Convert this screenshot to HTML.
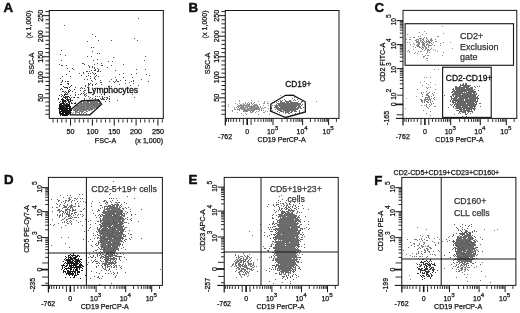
<!DOCTYPE html><html><head><meta charset="utf-8"><style>html,body{margin:0;padding:0;background:#fff;width:520px;height:313px;overflow:hidden}svg{display:block;font-family:"Liberation Sans",sans-serif}</style></head><body><svg width="520" height="313" viewBox="0 0 520 313" font-family='"Liberation Sans", sans-serif'><rect width="520" height="313" fill="#fff"/><defs><filter id="bl" x="-5%" y="-5%" width="110%" height="110%"><feGaussianBlur stdDeviation="0.45"/></filter><filter id="bt" x="-2%" y="-2%" width="104%" height="104%"><feGaussianBlur stdDeviation="0.3"/></filter></defs><g shape-rendering="crispEdges" filter="url(#bl)"><path fill="#737373" d="M97 100h2v1h-2zM83 101h1v1h-1zM87 101h12v1h-12zM81 102h1v1h-1zM83 102h6v1h-6zM90 102h8v1h-8zM99 102h1v1h-1zM80 103h20v1h-20zM79 104h21v1h-21zM77 105h22v1h-22zM76 106h22v1h-22zM75 107h22v1h-22zM74 108h21v1h-21zM74 109h19v1h-19zM73 110h14v1h-14zM88 110h2v1h-2zM91 110h1v1h-1zM75 111h3v1h-3zM79 111h5v1h-5zM86 111h2v1h-2zM75 112h1v1h-1zM77 112h1v1h-1zM79 112h1v1h-1zM84 112h1v1h-1zM79 113h1v1h-1z"/><path fill="#8a8a8a" d="M92 104h1v1h-1zM82 105h1v1h-1zM84 105h2v1h-2zM91 105h1v1h-1zM76 106h1v1h-1zM89 106h1v1h-1zM93 106h1v1h-1zM77 107h1v1h-1zM85 107h2v1h-2zM89 107h1v1h-1zM91 107h1v1h-1zM95 107h2v1h-2zM75 108h1v1h-1zM78 108h1v1h-1zM85 108h1v1h-1zM88 108h1v1h-1zM73 109h1v1h-1zM76 109h1v1h-1zM79 109h1v1h-1zM81 109h1v1h-1zM76 110h1v1h-1zM79 110h2v1h-2zM82 110h2v1h-2zM86 110h1v1h-1zM88 110h1v1h-1zM91 110h1v1h-1zM77 111h1v1h-1zM79 111h2v1h-2zM83 111h1v1h-1zM71 112h1v1h-1zM73 112h1v1h-1zM76 112h3v1h-3zM81 112h2v1h-2zM85 112h1v1h-1zM72 113h1v1h-1zM75 113h1v1h-1zM81 113h1v1h-1zM83 113h1v1h-1zM86 113h1v1h-1z"/><path fill="#141414" d="M63 102h1v1h-1zM61 103h4v1h-4zM66 103h2v1h-2zM69 103h1v1h-1zM59 104h3v1h-3zM63 104h7v1h-7zM59 105h11v1h-11zM59 106h12v1h-12zM59 107h9v1h-9zM69 107h2v1h-2zM59 108h12v1h-12zM59 109h9v1h-9zM69 109h2v1h-2zM59 110h1v1h-1zM61 110h11v1h-11zM59 111h11v1h-11zM59 112h2v1h-2zM62 112h9v1h-9zM59 113h5v1h-5zM65 113h6v1h-6zM60 114h9v1h-9zM60 115h1v1h-1zM62 115h6v1h-6z"/><path fill="#222" d="M61 94h1v1h-1zM64 94h1v1h-1zM59 95h1v1h-1zM62 95h1v1h-1zM64 95h1v1h-1zM61 96h1v1h-1zM63 96h1v1h-1zM67 96h2v1h-2zM64 97h3v1h-3zM69 97h1v1h-1zM74 97h1v1h-1zM58 98h1v1h-1zM62 98h1v1h-1zM65 98h1v1h-1zM67 98h1v1h-1zM70 98h1v1h-1zM61 99h3v1h-3zM66 99h2v1h-2zM69 99h2v1h-2zM62 100h4v1h-4zM67 100h2v1h-2zM70 100h1v1h-1zM72 100h1v1h-1zM60 101h1v1h-1zM62 101h5v1h-5zM68 101h1v1h-1zM70 101h1v1h-1zM59 102h1v1h-1zM62 102h1v1h-1zM65 102h1v1h-1zM68 102h2v1h-2zM60 103h1v1h-1zM67 103h1v1h-1zM71 103h2v1h-2zM74 103h2v1h-2zM63 104h2v1h-2zM66 104h2v1h-2zM60 105h1v1h-1zM63 105h1v1h-1zM65 105h1v1h-1zM73 254h1v1h-1zM72 255h1v1h-1zM68 256h1v1h-1zM70 256h1v1h-1zM73 257h1v1h-1zM75 257h1v1h-1zM68 258h1v1h-1zM72 259h1v1h-1zM75 259h1v1h-1zM65 260h1v1h-1zM70 260h1v1h-1zM72 260h1v1h-1zM79 260h1v1h-1zM68 261h3v1h-3zM72 261h1v1h-1zM80 261h1v1h-1zM67 262h2v1h-2zM70 262h4v1h-4zM75 262h2v1h-2zM79 262h1v1h-1zM66 263h1v1h-1zM69 263h1v1h-1zM72 263h1v1h-1zM74 263h2v1h-2zM80 263h1v1h-1zM63 264h1v1h-1zM71 264h1v1h-1zM73 264h1v1h-1zM75 264h3v1h-3zM81 264h1v1h-1zM61 265h2v1h-2zM71 265h1v1h-1zM75 265h1v1h-1zM65 266h2v1h-2zM70 266h2v1h-2zM75 266h1v1h-1zM82 266h2v1h-2zM62 267h1v1h-1zM70 267h3v1h-3zM62 268h1v1h-1zM69 268h2v1h-2zM79 268h1v1h-1zM61 269h1v1h-1zM76 269h1v1h-1zM79 269h1v1h-1zM68 270h1v1h-1zM76 270h2v1h-2zM82 270h1v1h-1zM63 271h1v1h-1zM69 271h1v1h-1zM72 271h2v1h-2zM75 271h1v1h-1zM78 271h1v1h-1zM72 272h1v1h-1zM77 272h1v1h-1zM79 272h1v1h-1zM67 273h1v1h-1zM70 273h1v1h-1zM75 273h1v1h-1zM77 273h1v1h-1zM66 274h1v1h-1zM78 274h1v1h-1zM85 275h1v1h-1zM73 277h2v1h-2zM80 278h1v1h-1z"/><path fill="#444" d="M69 10h2v1h-2zM74 10h1v1h-1zM91 10h2v1h-2zM94 10h1v1h-1zM97 10h1v1h-1zM100 10h1v1h-1zM113 10h1v1h-1zM129 10h2v1h-2zM136 10h1v1h-1zM139 10h1v1h-1zM147 10h2v1h-2zM61 50h1v1h-1zM60 54h1v1h-1zM65 55h1v1h-1zM61 60h1v1h-1zM59 64h1v1h-1zM61 65h2v1h-2zM66 65h1v1h-1zM67 68h1v1h-1zM72 68h1v1h-1zM73 69h1v1h-1zM69 71h1v1h-1zM66 74h1v1h-1zM60 78h1v1h-1zM65 81h1v1h-1zM67 81h1v1h-1zM61 82h1v1h-1zM67 83h2v1h-2zM71 85h1v1h-1zM63 97h1v1h-1zM67 103h1v1h-1z"/><path fill="#4a4a4a" d="M92 34h1v1h-1zM95 36h1v1h-1zM98 40h1v1h-1zM111 40h1v1h-1zM87 41h1v1h-1zM91 47h1v1h-1zM93 47h1v1h-1zM92 51h1v1h-1zM97 53h1v1h-1zM99 53h1v1h-1zM97 59h1v1h-1zM93 60h1v1h-1zM82 63h2v1h-2zM97 63h1v1h-1zM84 64h1v1h-1zM94 64h1v1h-1zM88 65h1v1h-1zM101 65h2v1h-2zM89 66h1v1h-1zM92 66h1v1h-1zM89 67h1v1h-1zM92 67h1v1h-1zM94 67h1v1h-1zM107 67h1v1h-1zM95 69h1v1h-1zM98 69h1v1h-1zM91 70h1v1h-1zM94 70h2v1h-2zM98 70h1v1h-1zM86 71h2v1h-2zM89 71h1v1h-1zM97 71h2v1h-2zM100 71h1v1h-1zM83 72h1v1h-1zM92 72h1v1h-1zM88 73h1v1h-1zM90 73h1v1h-1zM95 73h1v1h-1zM81 75h1v1h-1zM88 75h1v1h-1zM96 75h1v1h-1zM62 76h1v1h-1zM86 76h1v1h-1zM90 76h1v1h-1zM95 76h1v1h-1zM98 76h1v1h-1zM94 77h1v1h-1zM90 78h1v1h-1zM94 78h1v1h-1zM84 79h1v1h-1zM87 79h1v1h-1zM95 79h1v1h-1zM91 80h1v1h-1zM100 80h1v1h-1zM92 81h1v1h-1zM101 82h1v1h-1zM88 83h1v1h-1zM90 83h1v1h-1zM92 84h1v1h-1zM95 84h1v1h-1zM85 85h1v1h-1zM92 85h1v1h-1zM75 87h1v1h-1zM81 87h1v1h-1zM82 88h1v1h-1zM94 88h1v1h-1zM84 92h1v1h-1zM109 92h1v1h-1zM101 94h1v1h-1zM99 96h1v1h-1zM102 96h1v1h-1zM109 96h1v1h-1zM104 97h1v1h-1zM106 97h2v1h-2zM100 98h1v1h-1zM102 98h1v1h-1zM107 98h1v1h-1zM109 98h1v1h-1zM95 99h1v1h-1zM98 99h1v1h-1zM101 99h4v1h-4zM106 99h1v1h-1zM109 99h1v1h-1zM81 101h1v1h-1zM105 101h1v1h-1zM109 101h1v1h-1zM93 104h1v1h-1z"/><path fill="#555" d="M138 18h1v1h-1zM64 25h1v1h-1zM134 38h1v1h-1zM137 40h1v1h-1zM87 56h1v1h-1zM91 56h1v1h-1zM145 56h1v1h-1zM113 57h1v1h-1zM144 60h1v1h-1zM108 61h1v1h-1zM112 61h1v1h-1zM101 63h1v1h-1zM94 64h1v1h-1zM123 64h1v1h-1zM111 65h1v1h-1zM94 68h1v1h-1zM97 68h1v1h-1zM136 69h1v1h-1zM145 69h1v1h-1zM115 70h1v1h-1zM79 73h1v1h-1zM83 73h1v1h-1zM93 73h1v1h-1zM123 73h1v1h-1zM136 73h1v1h-1zM94 74h1v1h-1zM119 74h1v1h-1zM131 74h1v1h-1zM146 74h1v1h-1zM149 75h1v1h-1zM115 77h1v1h-1zM123 77h1v1h-1zM132 77h1v1h-1zM111 79h1v1h-1zM116 79h1v1h-1zM141 79h1v1h-1zM116 80h1v1h-1zM120 80h1v1h-1zM125 80h1v1h-1zM133 80h1v1h-1zM92 81h1v1h-1zM109 81h1v1h-1zM113 81h1v1h-1zM115 81h1v1h-1zM117 81h2v1h-2zM131 81h1v1h-1zM133 81h1v1h-1zM148 81h1v1h-1zM100 82h1v1h-1zM114 82h1v1h-1zM129 82h1v1h-1zM96 83h1v1h-1zM125 83h1v1h-1zM133 83h1v1h-1zM88 84h2v1h-2zM101 84h1v1h-1zM119 84h1v1h-1zM88 85h1v1h-1zM130 85h1v1h-1zM138 85h1v1h-1zM85 86h1v1h-1zM108 86h1v1h-1zM111 86h1v1h-1zM87 87h1v1h-1zM80 88h1v1h-1zM84 88h1v1h-1zM97 88h1v1h-1zM107 88h1v1h-1zM88 89h1v1h-1zM99 89h1v1h-1zM80 90h1v1h-1zM84 90h2v1h-2zM93 90h1v1h-1zM83 91h1v1h-1zM113 91h1v1h-1zM68 92h1v1h-1zM89 92h1v1h-1zM127 92h1v1h-1zM81 93h1v1h-1zM83 93h1v1h-1zM86 93h1v1h-1zM94 93h1v1h-1zM67 94h1v1h-1zM75 94h1v1h-1zM78 94h1v1h-1zM80 94h1v1h-1zM84 94h2v1h-2zM132 94h1v1h-1zM75 95h1v1h-1zM84 95h1v1h-1zM86 95h1v1h-1zM63 96h1v1h-1zM66 96h1v1h-1zM85 96h1v1h-1zM88 96h1v1h-1zM95 96h1v1h-1zM97 96h1v1h-1zM99 96h1v1h-1zM67 97h1v1h-1zM71 97h1v1h-1zM73 97h1v1h-1zM77 97h1v1h-1zM90 97h1v1h-1zM102 97h1v1h-1zM134 97h1v1h-1zM84 98h1v1h-1zM89 98h1v1h-1zM92 98h1v1h-1zM95 98h1v1h-1zM103 98h1v1h-1zM58 99h1v1h-1zM69 99h1v1h-1zM84 99h1v1h-1zM71 100h1v1h-1zM117 100h1v1h-1zM66 101h1v1h-1zM69 101h1v1h-1zM87 101h1v1h-1zM71 102h1v1h-1zM75 102h1v1h-1zM72 103h1v1h-1zM65 104h1v1h-1zM64 106h1v1h-1zM65 107h1v1h-1zM58 108h1v1h-1zM93 255h1v1h-1zM99 255h1v1h-1zM108 255h1v1h-1zM90 256h1v1h-1zM93 256h1v1h-1zM101 256h1v1h-1zM88 257h1v1h-1zM92 257h1v1h-1zM101 257h1v1h-1zM94 260h1v1h-1zM93 261h1v1h-1zM95 261h2v1h-2zM88 262h1v1h-1zM92 262h1v1h-1zM96 263h1v1h-1zM99 263h1v1h-1zM108 263h1v1h-1zM87 264h1v1h-1zM98 265h1v1h-1zM101 265h1v1h-1zM105 265h1v1h-1zM96 266h1v1h-1zM102 266h1v1h-1zM91 271h1v1h-1zM96 272h1v1h-1zM94 276h1v1h-1zM97 277h1v1h-1zM90 278h1v1h-1z"/><path fill="#3a3a3a" d="M70 76h1v1h-1zM62 80h1v1h-1zM62 81h1v1h-1zM68 81h1v1h-1zM60 84h2v1h-2zM68 84h1v1h-1zM63 86h1v1h-1zM70 86h1v1h-1zM64 87h4v1h-4zM69 87h1v1h-1zM61 88h1v1h-1zM67 88h1v1h-1zM60 89h1v1h-1zM62 89h1v1h-1zM69 89h1v1h-1zM74 89h1v1h-1zM68 90h1v1h-1zM70 90h1v1h-1zM62 91h2v1h-2zM65 91h1v1h-1zM68 91h2v1h-2zM72 91h1v1h-1zM64 92h1v1h-1zM66 92h1v1h-1zM68 92h1v1h-1zM75 92h1v1h-1zM65 93h1v1h-1zM67 93h1v1h-1zM61 94h1v1h-1zM65 94h2v1h-2zM70 95h1v1h-1zM65 96h1v1h-1zM78 97h1v1h-1zM63 99h1v1h-1zM68 99h1v1h-1zM422 259h2v1h-2zM430 259h1v1h-1zM430 260h1v1h-1zM425 261h1v1h-1zM427 261h1v1h-1zM429 261h1v1h-1zM431 261h1v1h-1zM420 262h4v1h-4zM428 262h1v1h-1zM425 263h1v1h-1zM427 263h1v1h-1zM431 263h1v1h-1zM434 263h1v1h-1zM417 264h1v1h-1zM419 264h1v1h-1zM421 264h1v1h-1zM424 264h2v1h-2zM427 264h3v1h-3zM432 264h1v1h-1zM434 264h1v1h-1zM420 265h2v1h-2zM428 265h3v1h-3zM434 265h1v1h-1zM419 266h2v1h-2zM424 266h1v1h-1zM426 266h1v1h-1zM430 266h1v1h-1zM417 267h1v1h-1zM424 267h1v1h-1zM426 267h1v1h-1zM429 267h1v1h-1zM431 267h3v1h-3zM418 268h2v1h-2zM421 268h2v1h-2zM426 268h2v1h-2zM430 268h1v1h-1zM433 268h1v1h-1zM418 269h1v1h-1zM420 269h1v1h-1zM424 269h1v1h-1zM427 269h1v1h-1zM430 269h1v1h-1zM434 269h1v1h-1zM420 270h1v1h-1zM423 270h1v1h-1zM432 270h2v1h-2zM437 270h1v1h-1zM420 271h1v1h-1zM425 271h1v1h-1zM427 271h3v1h-3zM420 272h1v1h-1zM422 272h1v1h-1zM424 272h1v1h-1zM426 272h1v1h-1zM428 272h1v1h-1zM432 272h1v1h-1zM435 272h1v1h-1zM417 273h1v1h-1zM422 273h1v1h-1zM424 273h1v1h-1zM426 273h2v1h-2zM427 274h2v1h-2zM420 275h1v1h-1zM423 275h1v1h-1zM426 275h1v1h-1zM428 275h2v1h-2zM431 275h2v1h-2zM421 276h1v1h-1zM424 276h1v1h-1zM427 276h3v1h-3zM422 277h1v1h-1zM430 277h1v1h-1zM430 278h1v1h-1z"/><path fill="#878787" d="M247 103h1v1h-1zM249 103h1v1h-1zM251 103h1v1h-1zM253 103h1v1h-1zM241 104h1v1h-1zM243 104h2v1h-2zM246 104h1v1h-1zM248 104h2v1h-2zM252 104h1v1h-1zM254 104h1v1h-1zM256 104h1v1h-1zM259 104h1v1h-1zM238 105h1v1h-1zM240 105h10v1h-10zM251 105h1v1h-1zM253 105h5v1h-5zM239 106h5v1h-5zM245 106h2v1h-2zM248 106h7v1h-7zM236 107h1v1h-1zM238 107h1v1h-1zM240 107h8v1h-8zM249 107h10v1h-10zM240 108h6v1h-6zM247 108h12v1h-12zM261 108h1v1h-1zM237 109h3v1h-3zM242 109h11v1h-11zM254 109h5v1h-5zM239 110h1v1h-1zM243 110h7v1h-7zM251 110h4v1h-4zM259 110h1v1h-1zM243 111h1v1h-1zM245 111h3v1h-3zM250 111h1v1h-1zM252 111h2v1h-2zM251 112h1v1h-1z"/><path fill="#999" d="M434 69h1v1h-1zM438 69h1v1h-1zM424 77h1v1h-1zM426 77h1v1h-1zM430 77h1v1h-1zM424 81h1v1h-1zM420 82h1v1h-1zM430 82h1v1h-1zM426 83h1v1h-1zM428 84h1v1h-1zM435 84h1v1h-1zM426 87h1v1h-1zM428 87h1v1h-1zM417 89h1v1h-1zM435 89h1v1h-1zM280 95h1v1h-1zM416 96h1v1h-1zM406 98h1v1h-1zM434 99h1v1h-1zM239 100h1v1h-1zM251 100h1v1h-1zM239 101h1v1h-1zM258 101h1v1h-1zM264 101h1v1h-1zM267 101h1v1h-1zM245 102h1v1h-1zM248 102h1v1h-1zM254 102h1v1h-1zM264 102h1v1h-1zM274 102h1v1h-1zM235 103h1v1h-1zM239 103h1v1h-1zM243 103h1v1h-1zM245 103h1v1h-1zM249 103h1v1h-1zM263 103h2v1h-2zM267 103h2v1h-2zM228 104h1v1h-1zM237 104h1v1h-1zM240 104h2v1h-2zM243 104h1v1h-1zM246 104h2v1h-2zM252 104h1v1h-1zM254 104h2v1h-2zM259 104h1v1h-1zM239 105h1v1h-1zM247 105h1v1h-1zM255 105h2v1h-2zM263 105h1v1h-1zM268 105h1v1h-1zM272 105h1v1h-1zM274 105h2v1h-2zM228 106h1v1h-1zM237 106h5v1h-5zM245 106h3v1h-3zM249 106h2v1h-2zM253 106h1v1h-1zM255 106h4v1h-4zM260 106h1v1h-1zM435 106h1v1h-1zM234 107h1v1h-1zM240 107h1v1h-1zM245 107h2v1h-2zM252 107h1v1h-1zM255 107h1v1h-1zM260 107h1v1h-1zM262 107h1v1h-1zM264 107h2v1h-2zM234 108h1v1h-1zM237 108h1v1h-1zM239 108h1v1h-1zM243 108h3v1h-3zM249 108h1v1h-1zM253 108h1v1h-1zM259 108h1v1h-1zM263 108h1v1h-1zM268 108h1v1h-1zM405 108h1v1h-1zM234 109h2v1h-2zM237 109h1v1h-1zM241 109h1v1h-1zM243 109h1v1h-1zM248 109h4v1h-4zM253 109h1v1h-1zM257 109h1v1h-1zM259 109h1v1h-1zM261 109h1v1h-1zM232 110h1v1h-1zM250 110h1v1h-1zM261 110h1v1h-1zM263 110h1v1h-1zM271 110h2v1h-2zM232 111h1v1h-1zM244 111h1v1h-1zM256 111h1v1h-1zM258 111h1v1h-1zM265 111h1v1h-1zM267 111h1v1h-1zM237 112h1v1h-1zM250 112h3v1h-3zM255 112h1v1h-1zM263 112h2v1h-2zM241 113h1v1h-1zM245 113h1v1h-1zM246 114h1v1h-1zM258 114h1v1h-1zM269 114h1v1h-1zM243 115h1v1h-1z"/><path fill="#707070" d="M289 100h2v1h-2zM295 100h1v1h-1zM286 101h1v1h-1zM288 101h4v1h-4zM298 101h1v1h-1zM280 102h5v1h-5zM286 102h2v1h-2zM290 102h8v1h-8zM277 103h23v1h-23zM276 104h1v1h-1zM278 104h23v1h-23zM275 105h25v1h-25zM301 105h1v1h-1zM275 106h3v1h-3zM279 106h18v1h-18zM298 106h3v1h-3zM275 107h4v1h-4zM280 107h16v1h-16zM297 107h4v1h-4zM276 108h23v1h-23zM300 108h1v1h-1zM275 109h1v1h-1zM277 109h21v1h-21zM278 110h4v1h-4zM283 110h13v1h-13zM299 110h1v1h-1zM280 111h4v1h-4zM285 111h5v1h-5zM291 111h2v1h-2zM296 111h1v1h-1zM283 112h1v1h-1zM288 112h1v1h-1zM290 112h1v1h-1zM285 113h1v1h-1zM462 233h1v1h-1zM464 233h1v1h-1zM466 233h1v1h-1zM460 234h3v1h-3zM464 234h1v1h-1zM466 234h4v1h-4zM459 235h1v1h-1zM462 235h1v1h-1zM464 235h3v1h-3zM468 235h3v1h-3zM472 235h1v1h-1zM457 236h2v1h-2zM460 236h2v1h-2zM463 236h9v1h-9zM458 237h9v1h-9zM468 237h4v1h-4zM457 238h5v1h-5zM463 238h2v1h-2zM467 238h5v1h-5zM473 238h1v1h-1zM456 239h17v1h-17zM456 240h1v1h-1zM458 240h13v1h-13zM474 240h1v1h-1zM457 241h4v1h-4zM462 241h10v1h-10zM455 242h4v1h-4zM460 242h13v1h-13zM475 242h1v1h-1zM454 243h1v1h-1zM456 243h8v1h-8zM465 243h10v1h-10zM455 244h3v1h-3zM460 244h16v1h-16zM453 245h1v1h-1zM455 245h16v1h-16zM472 245h4v1h-4zM456 246h18v1h-18zM454 247h2v1h-2zM458 247h16v1h-16zM475 247h1v1h-1zM455 248h21v1h-21zM455 249h1v1h-1zM457 249h12v1h-12zM470 249h5v1h-5zM455 250h1v1h-1zM457 250h6v1h-6zM464 250h2v1h-2zM467 250h6v1h-6zM474 250h2v1h-2zM455 251h7v1h-7zM463 251h12v1h-12zM456 252h9v1h-9zM466 252h8v1h-8zM475 252h1v1h-1zM456 253h6v1h-6zM464 253h6v1h-6zM471 253h1v1h-1zM473 253h1v1h-1zM475 253h1v1h-1zM454 254h1v1h-1zM457 254h19v1h-19zM453 255h1v1h-1zM455 255h1v1h-1zM457 255h18v1h-18zM456 256h8v1h-8zM465 256h10v1h-10zM457 257h12v1h-12zM470 257h3v1h-3zM457 258h14v1h-14zM472 258h3v1h-3zM457 259h1v1h-1zM459 259h3v1h-3zM463 259h11v1h-11zM458 260h14v1h-14zM458 261h2v1h-2zM461 261h2v1h-2zM464 261h8v1h-8zM459 262h1v1h-1zM461 262h2v1h-2zM464 262h2v1h-2zM467 262h1v1h-1zM470 262h1v1h-1zM462 263h2v1h-2zM466 263h2v1h-2z"/><path fill="#6a6a6a" d="M294 97h1v1h-1zM292 98h1v1h-1zM284 99h1v1h-1zM294 99h1v1h-1zM297 99h1v1h-1zM280 100h1v1h-1zM282 100h1v1h-1zM285 100h1v1h-1zM293 100h1v1h-1zM278 101h1v1h-1zM280 101h2v1h-2zM285 101h3v1h-3zM301 101h2v1h-2zM276 102h1v1h-1zM280 102h1v1h-1zM288 102h1v1h-1zM290 102h1v1h-1zM294 102h2v1h-2zM297 102h1v1h-1zM301 102h1v1h-1zM277 103h1v1h-1zM280 103h1v1h-1zM283 103h1v1h-1zM287 103h1v1h-1zM289 103h1v1h-1zM293 103h1v1h-1zM298 103h3v1h-3zM278 104h1v1h-1zM284 104h3v1h-3zM288 104h4v1h-4zM294 104h2v1h-2zM297 104h1v1h-1zM299 104h1v1h-1zM302 104h1v1h-1zM281 105h1v1h-1zM283 105h4v1h-4zM288 105h1v1h-1zM290 105h2v1h-2zM295 105h1v1h-1zM301 105h1v1h-1zM282 106h1v1h-1zM284 106h1v1h-1zM286 106h5v1h-5zM292 106h3v1h-3zM296 106h1v1h-1zM271 107h1v1h-1zM274 107h1v1h-1zM276 107h1v1h-1zM282 107h1v1h-1zM285 107h2v1h-2zM288 107h2v1h-2zM293 107h1v1h-1zM295 107h1v1h-1zM297 107h1v1h-1zM303 107h1v1h-1zM271 108h1v1h-1zM282 108h2v1h-2zM287 108h1v1h-1zM289 108h1v1h-1zM291 108h1v1h-1zM294 108h1v1h-1zM301 108h1v1h-1zM281 109h1v1h-1zM285 109h4v1h-4zM290 109h2v1h-2zM296 109h1v1h-1zM280 110h2v1h-2zM284 110h3v1h-3zM290 110h3v1h-3zM277 111h1v1h-1zM283 111h1v1h-1zM286 111h1v1h-1zM294 111h2v1h-2zM299 111h1v1h-1zM279 112h1v1h-1zM285 112h3v1h-3zM291 112h1v1h-1zM299 112h1v1h-1zM288 113h2v1h-2zM295 113h1v1h-1zM79 194h1v1h-1zM82 194h1v1h-1zM60 195h1v1h-1zM67 195h1v1h-1zM70 195h1v1h-1zM63 197h1v1h-1zM69 197h1v1h-1zM71 197h1v1h-1zM68 198h2v1h-2zM74 198h2v1h-2zM77 198h1v1h-1zM80 198h1v1h-1zM82 198h1v1h-1zM51 199h1v1h-1zM57 199h1v1h-1zM69 199h2v1h-2zM76 199h1v1h-1zM58 200h2v1h-2zM65 200h2v1h-2zM68 200h2v1h-2zM72 200h1v1h-1zM74 200h1v1h-1zM58 201h1v1h-1zM63 201h1v1h-1zM65 201h1v1h-1zM68 201h1v1h-1zM71 201h1v1h-1zM77 201h1v1h-1zM80 201h1v1h-1zM83 201h1v1h-1zM61 202h1v1h-1zM65 202h1v1h-1zM71 202h1v1h-1zM85 202h1v1h-1zM56 203h1v1h-1zM64 203h1v1h-1zM75 203h1v1h-1zM78 203h1v1h-1zM57 204h1v1h-1zM60 204h1v1h-1zM67 204h1v1h-1zM71 204h1v1h-1zM75 204h1v1h-1zM59 205h1v1h-1zM63 205h2v1h-2zM67 205h1v1h-1zM70 205h3v1h-3zM78 205h1v1h-1zM59 206h1v1h-1zM64 206h3v1h-3zM69 206h3v1h-3zM73 206h3v1h-3zM78 206h2v1h-2zM56 207h2v1h-2zM63 207h4v1h-4zM68 207h1v1h-1zM70 207h3v1h-3zM62 208h1v1h-1zM67 208h1v1h-1zM70 208h1v1h-1zM72 208h1v1h-1zM84 208h1v1h-1zM58 209h2v1h-2zM65 209h5v1h-5zM72 209h2v1h-2zM75 209h1v1h-1zM83 209h1v1h-1zM57 210h3v1h-3zM61 210h1v1h-1zM65 210h2v1h-2zM69 210h2v1h-2zM72 210h4v1h-4zM52 211h1v1h-1zM59 211h2v1h-2zM62 211h2v1h-2zM65 211h1v1h-1zM67 211h1v1h-1zM69 211h1v1h-1zM72 211h1v1h-1zM80 211h2v1h-2zM59 212h1v1h-1zM63 212h1v1h-1zM65 212h1v1h-1zM67 212h1v1h-1zM69 212h1v1h-1zM74 212h3v1h-3zM62 213h1v1h-1zM64 213h1v1h-1zM66 213h2v1h-2zM69 213h1v1h-1zM71 213h2v1h-2zM74 213h1v1h-1zM57 214h1v1h-1zM60 214h1v1h-1zM62 214h1v1h-1zM66 214h4v1h-4zM71 214h1v1h-1zM75 214h1v1h-1zM78 214h1v1h-1zM80 214h1v1h-1zM82 214h1v1h-1zM57 215h1v1h-1zM59 215h2v1h-2zM62 215h1v1h-1zM68 215h3v1h-3zM73 215h1v1h-1zM77 215h1v1h-1zM83 215h1v1h-1zM59 216h1v1h-1zM62 216h1v1h-1zM66 216h1v1h-1zM68 216h2v1h-2zM71 216h1v1h-1zM82 216h1v1h-1zM59 217h1v1h-1zM65 217h1v1h-1zM70 217h1v1h-1zM72 217h1v1h-1zM74 217h3v1h-3zM78 217h1v1h-1zM64 218h1v1h-1zM68 218h4v1h-4zM52 219h1v1h-1zM62 219h2v1h-2zM66 219h2v1h-2zM73 219h1v1h-1zM85 219h1v1h-1zM61 220h1v1h-1zM66 220h1v1h-1zM70 220h1v1h-1zM76 220h1v1h-1zM64 221h1v1h-1zM67 221h1v1h-1zM69 221h1v1h-1zM71 221h1v1h-1zM80 221h1v1h-1zM62 222h1v1h-1zM64 222h1v1h-1zM66 222h1v1h-1zM70 222h1v1h-1zM78 222h1v1h-1zM58 223h1v1h-1zM67 223h2v1h-2zM71 223h1v1h-1zM50 224h1v1h-1zM54 224h1v1h-1zM71 224h1v1h-1zM53 225h1v1h-1zM65 225h1v1h-1zM82 225h1v1h-1zM61 227h1v1h-1zM68 237h1v1h-1z"/><path fill="#888" d="M425 55h1v1h-1zM427 55h1v1h-1zM423 56h2v1h-2zM423 57h1v1h-1zM426 58h2v1h-2zM427 60h1v1h-1zM280 101h1v1h-1zM316 101h1v1h-1zM251 102h1v1h-1zM414 239h1v1h-1zM439 239h1v1h-1zM413 243h1v1h-1zM418 245h1v1h-1zM438 250h1v1h-1zM410 255h1v1h-1zM416 263h1v1h-1zM429 266h1v1h-1zM409 275h1v1h-1zM423 276h1v1h-1zM410 279h1v1h-1z"/><path fill="#858585" d="M422 34h1v1h-1zM418 36h1v1h-1zM413 37h1v1h-1zM424 37h1v1h-1zM419 38h3v1h-3zM423 38h1v1h-1zM426 38h1v1h-1zM431 38h1v1h-1zM416 39h1v1h-1zM418 39h1v1h-1zM420 39h1v1h-1zM422 39h2v1h-2zM427 39h1v1h-1zM430 39h2v1h-2zM435 39h1v1h-1zM415 40h2v1h-2zM421 40h1v1h-1zM423 40h1v1h-1zM426 40h1v1h-1zM428 40h1v1h-1zM430 40h1v1h-1zM417 41h2v1h-2zM420 41h1v1h-1zM422 41h1v1h-1zM424 41h1v1h-1zM426 41h4v1h-4zM431 41h1v1h-1zM417 42h3v1h-3zM421 42h1v1h-1zM423 42h1v1h-1zM426 42h1v1h-1zM428 42h2v1h-2zM433 42h1v1h-1zM418 43h2v1h-2zM422 43h3v1h-3zM427 43h1v1h-1zM429 43h1v1h-1zM414 44h1v1h-1zM417 44h1v1h-1zM419 44h1v1h-1zM422 44h3v1h-3zM426 44h3v1h-3zM432 44h1v1h-1zM416 45h3v1h-3zM423 45h1v1h-1zM426 45h1v1h-1zM428 45h4v1h-4zM434 45h1v1h-1zM417 46h3v1h-3zM424 46h2v1h-2zM428 46h1v1h-1zM419 47h2v1h-2zM422 47h2v1h-2zM425 47h2v1h-2zM421 48h1v1h-1zM425 48h2v1h-2zM422 49h1v1h-1zM425 49h1v1h-1zM427 49h2v1h-2zM430 49h1v1h-1zM427 50h2v1h-2zM420 51h1v1h-1z"/><path fill="#909090" d="M442 26h1v1h-1zM424 31h1v1h-1zM419 32h1v1h-1zM426 33h1v1h-1zM443 33h1v1h-1zM407 34h1v1h-1zM422 34h1v1h-1zM420 36h1v1h-1zM437 36h2v1h-2zM410 37h1v1h-1zM414 37h1v1h-1zM426 37h1v1h-1zM406 39h1v1h-1zM409 39h2v1h-2zM416 39h2v1h-2zM420 39h1v1h-1zM423 39h1v1h-1zM418 40h1v1h-1zM420 40h2v1h-2zM431 40h2v1h-2zM416 41h1v1h-1zM420 41h1v1h-1zM435 41h2v1h-2zM407 42h1v1h-1zM409 42h1v1h-1zM416 42h2v1h-2zM422 42h1v1h-1zM425 42h1v1h-1zM430 42h1v1h-1zM443 42h1v1h-1zM450 42h1v1h-1zM413 43h1v1h-1zM419 43h1v1h-1zM429 43h1v1h-1zM431 43h1v1h-1zM440 43h1v1h-1zM410 44h1v1h-1zM418 44h1v1h-1zM423 44h1v1h-1zM427 44h1v1h-1zM422 45h1v1h-1zM424 45h1v1h-1zM440 45h1v1h-1zM413 46h1v1h-1zM422 46h1v1h-1zM415 47h1v1h-1zM422 47h1v1h-1zM428 47h1v1h-1zM421 48h1v1h-1zM423 48h1v1h-1zM431 48h1v1h-1zM452 48h1v1h-1zM413 49h1v1h-1zM433 49h1v1h-1zM408 50h1v1h-1zM424 50h1v1h-1zM428 50h2v1h-2zM435 50h1v1h-1zM407 51h1v1h-1zM409 51h1v1h-1zM418 51h1v1h-1zM421 51h1v1h-1zM427 51h1v1h-1zM437 51h1v1h-1zM409 52h1v1h-1zM415 52h1v1h-1zM427 52h1v1h-1zM429 52h1v1h-1zM443 52h1v1h-1zM414 53h1v1h-1zM417 53h1v1h-1zM426 53h1v1h-1zM422 54h1v1h-1zM428 55h1v1h-1zM442 55h1v1h-1z"/><path fill="#666" d="M469 76h1v1h-1zM485 80h1v1h-1zM463 83h1v1h-1zM465 83h2v1h-2zM460 84h1v1h-1zM462 84h2v1h-2zM465 84h2v1h-2zM460 85h11v1h-11zM455 86h2v1h-2zM459 86h2v1h-2zM463 86h7v1h-7zM474 86h1v1h-1zM477 86h1v1h-1zM479 86h1v1h-1zM455 87h14v1h-14zM470 87h3v1h-3zM475 87h1v1h-1zM453 88h1v1h-1zM455 88h10v1h-10zM466 88h7v1h-7zM452 89h2v1h-2zM455 89h18v1h-18zM474 89h1v1h-1zM453 90h2v1h-2zM456 90h18v1h-18zM478 90h1v1h-1zM452 91h15v1h-15zM468 91h8v1h-8zM451 92h2v1h-2zM454 92h9v1h-9zM464 92h1v1h-1zM466 92h10v1h-10zM453 93h19v1h-19zM473 93h2v1h-2zM476 93h1v1h-1zM452 94h9v1h-9zM462 94h15v1h-15zM444 95h1v1h-1zM452 95h2v1h-2zM455 95h21v1h-21zM478 95h1v1h-1zM450 96h2v1h-2zM453 96h1v1h-1zM455 96h21v1h-21zM477 96h1v1h-1zM451 97h1v1h-1zM454 97h4v1h-4zM459 97h19v1h-19zM451 98h6v1h-6zM458 98h10v1h-10zM469 98h10v1h-10zM451 99h1v1h-1zM453 99h11v1h-11zM465 99h11v1h-11zM477 99h1v1h-1zM450 100h1v1h-1zM452 100h12v1h-12zM465 100h11v1h-11zM477 100h1v1h-1zM450 101h1v1h-1zM452 101h2v1h-2zM455 101h23v1h-23zM452 102h4v1h-4zM457 102h17v1h-17zM475 102h2v1h-2zM453 103h1v1h-1zM455 103h11v1h-11zM467 103h8v1h-8zM476 103h1v1h-1zM479 103h2v1h-2zM450 104h1v1h-1zM452 104h1v1h-1zM454 104h23v1h-23zM451 105h1v1h-1zM454 105h1v1h-1zM456 105h20v1h-20zM453 106h1v1h-1zM455 106h6v1h-6zM462 106h6v1h-6zM469 106h7v1h-7zM480 106h1v1h-1zM448 107h1v1h-1zM453 107h1v1h-1zM456 107h17v1h-17zM474 107h1v1h-1zM455 108h7v1h-7zM463 108h13v1h-13zM459 109h6v1h-6zM466 109h6v1h-6zM473 109h2v1h-2zM456 110h3v1h-3zM460 110h2v1h-2zM463 110h7v1h-7zM471 110h1v1h-1zM474 110h1v1h-1zM459 111h7v1h-7zM467 111h6v1h-6zM459 112h1v1h-1zM462 112h4v1h-4zM468 112h1v1h-1zM472 112h1v1h-1zM458 113h1v1h-1zM460 113h1v1h-1zM465 113h1v1h-1zM467 113h1v1h-1zM470 113h1v1h-1zM454 114h1v1h-1zM465 114h2v1h-2zM462 116h1v1h-1zM466 116h1v1h-1zM460 117h1v1h-1zM281 195h1v1h-1zM279 196h1v1h-1zM282 199h1v1h-1zM112 200h1v1h-1zM286 200h1v1h-1zM92 201h1v1h-1zM106 201h1v1h-1zM280 201h1v1h-1zM106 202h1v1h-1zM119 202h1v1h-1zM124 202h1v1h-1zM276 202h1v1h-1zM278 202h1v1h-1zM285 202h1v1h-1zM290 202h1v1h-1zM294 202h1v1h-1zM107 203h1v1h-1zM283 203h1v1h-1zM286 203h1v1h-1zM106 204h1v1h-1zM112 204h1v1h-1zM118 204h1v1h-1zM268 204h1v1h-1zM273 204h1v1h-1zM277 204h2v1h-2zM283 204h1v1h-1zM287 204h1v1h-1zM289 204h1v1h-1zM293 204h1v1h-1zM100 205h1v1h-1zM112 205h1v1h-1zM273 205h1v1h-1zM276 205h1v1h-1zM284 205h1v1h-1zM286 205h1v1h-1zM293 205h1v1h-1zM295 205h1v1h-1zM104 206h1v1h-1zM106 206h1v1h-1zM109 206h2v1h-2zM112 206h2v1h-2zM116 206h1v1h-1zM119 206h1v1h-1zM274 206h1v1h-1zM278 206h1v1h-1zM283 206h1v1h-1zM286 206h1v1h-1zM288 206h1v1h-1zM52 207h1v1h-1zM111 207h3v1h-3zM116 207h1v1h-1zM119 207h1v1h-1zM125 207h1v1h-1zM279 207h1v1h-1zM285 207h2v1h-2zM296 207h1v1h-1zM104 208h1v1h-1zM111 208h1v1h-1zM115 208h2v1h-2zM122 208h1v1h-1zM279 208h1v1h-1zM282 208h1v1h-1zM290 208h1v1h-1zM294 208h1v1h-1zM298 208h1v1h-1zM106 209h2v1h-2zM109 209h1v1h-1zM111 209h1v1h-1zM114 209h1v1h-1zM123 209h1v1h-1zM281 209h1v1h-1zM92 210h1v1h-1zM103 210h1v1h-1zM108 210h1v1h-1zM110 210h1v1h-1zM115 210h1v1h-1zM117 210h1v1h-1zM274 210h1v1h-1zM278 210h1v1h-1zM280 210h1v1h-1zM288 210h1v1h-1zM294 210h1v1h-1zM97 211h1v1h-1zM111 211h1v1h-1zM116 211h1v1h-1zM125 211h1v1h-1zM283 211h2v1h-2zM286 211h2v1h-2zM106 212h1v1h-1zM112 212h1v1h-1zM114 212h1v1h-1zM119 212h1v1h-1zM122 212h1v1h-1zM103 213h1v1h-1zM107 213h1v1h-1zM114 213h1v1h-1zM114 214h1v1h-1zM278 214h1v1h-1zM108 215h2v1h-2zM116 216h1v1h-1zM112 218h1v1h-1zM117 222h1v1h-1zM118 226h2v1h-2zM90 227h1v1h-1zM120 228h1v1h-1zM116 230h1v1h-1zM286 230h1v1h-1zM122 232h1v1h-1zM102 233h1v1h-1zM104 234h1v1h-1zM61 237h1v1h-1zM97 238h1v1h-1zM92 241h1v1h-1zM65 243h1v1h-1zM51 245h1v1h-1zM69 247h1v1h-1zM283 249h1v1h-1zM93 251h1v1h-1zM297 251h1v1h-1zM100 253h1v1h-1zM106 253h1v1h-1zM110 253h1v1h-1zM112 253h1v1h-1zM114 253h1v1h-1zM243 253h1v1h-1zM97 254h1v1h-1zM100 254h1v1h-1zM102 254h2v1h-2zM105 254h1v1h-1zM107 254h1v1h-1zM109 254h1v1h-1zM117 254h1v1h-1zM123 254h1v1h-1zM235 254h1v1h-1zM97 255h1v1h-1zM101 255h1v1h-1zM104 255h3v1h-3zM108 255h5v1h-5zM115 255h2v1h-2zM244 255h1v1h-1zM102 256h2v1h-2zM105 256h1v1h-1zM107 256h6v1h-6zM115 256h3v1h-3zM120 256h2v1h-2zM238 256h1v1h-1zM247 256h2v1h-2zM294 256h1v1h-1zM101 257h1v1h-1zM104 257h5v1h-5zM110 257h1v1h-1zM113 257h2v1h-2zM119 257h1v1h-1zM236 257h1v1h-1zM249 257h1v1h-1zM251 257h1v1h-1zM271 257h1v1h-1zM285 257h1v1h-1zM100 258h1v1h-1zM102 258h1v1h-1zM105 258h12v1h-12zM241 258h1v1h-1zM243 258h1v1h-1zM247 258h1v1h-1zM250 258h1v1h-1zM287 258h1v1h-1zM95 259h1v1h-1zM105 259h4v1h-4zM110 259h5v1h-5zM116 259h1v1h-1zM119 259h1v1h-1zM126 259h1v1h-1zM246 259h1v1h-1zM249 259h1v1h-1zM257 259h1v1h-1zM286 259h2v1h-2zM296 259h1v1h-1zM91 260h1v1h-1zM105 260h6v1h-6zM113 260h1v1h-1zM115 260h1v1h-1zM120 260h1v1h-1zM238 260h1v1h-1zM242 260h1v1h-1zM245 260h1v1h-1zM283 260h1v1h-1zM286 260h2v1h-2zM295 260h1v1h-1zM103 261h1v1h-1zM105 261h1v1h-1zM107 261h1v1h-1zM110 261h1v1h-1zM112 261h1v1h-1zM114 261h2v1h-2zM237 261h2v1h-2zM241 261h1v1h-1zM243 261h2v1h-2zM247 261h1v1h-1zM279 261h1v1h-1zM282 261h1v1h-1zM285 261h3v1h-3zM290 261h2v1h-2zM98 262h1v1h-1zM105 262h9v1h-9zM115 262h2v1h-2zM235 262h1v1h-1zM240 262h1v1h-1zM243 262h1v1h-1zM279 262h1v1h-1zM285 262h1v1h-1zM288 262h2v1h-2zM97 263h1v1h-1zM102 263h2v1h-2zM105 263h2v1h-2zM108 263h8v1h-8zM239 263h1v1h-1zM243 263h1v1h-1zM248 263h2v1h-2zM284 263h1v1h-1zM288 263h1v1h-1zM290 263h4v1h-4zM102 264h1v1h-1zM104 264h6v1h-6zM111 264h1v1h-1zM114 264h1v1h-1zM239 264h2v1h-2zM242 264h2v1h-2zM245 264h1v1h-1zM253 264h1v1h-1zM282 264h1v1h-1zM284 264h4v1h-4zM289 264h3v1h-3zM294 264h1v1h-1zM101 265h1v1h-1zM104 265h2v1h-2zM113 265h1v1h-1zM115 265h2v1h-2zM119 265h1v1h-1zM242 265h1v1h-1zM244 265h2v1h-2zM248 265h1v1h-1zM280 265h1v1h-1zM282 265h1v1h-1zM284 265h1v1h-1zM286 265h3v1h-3zM290 265h2v1h-2zM293 265h2v1h-2zM297 265h1v1h-1zM105 266h1v1h-1zM107 266h3v1h-3zM111 266h1v1h-1zM114 266h1v1h-1zM116 266h1v1h-1zM121 266h1v1h-1zM231 266h1v1h-1zM234 266h1v1h-1zM242 266h3v1h-3zM279 266h1v1h-1zM284 266h4v1h-4zM291 266h3v1h-3zM298 266h1v1h-1zM96 267h1v1h-1zM102 267h1v1h-1zM105 267h1v1h-1zM107 267h1v1h-1zM111 267h1v1h-1zM113 267h2v1h-2zM116 267h1v1h-1zM120 267h1v1h-1zM238 267h1v1h-1zM246 267h1v1h-1zM281 267h1v1h-1zM283 267h1v1h-1zM285 267h2v1h-2zM288 267h2v1h-2zM293 267h1v1h-1zM299 267h1v1h-1zM103 268h1v1h-1zM105 268h1v1h-1zM109 268h1v1h-1zM121 268h1v1h-1zM241 268h1v1h-1zM243 268h1v1h-1zM246 268h1v1h-1zM279 268h1v1h-1zM281 268h1v1h-1zM283 268h4v1h-4zM289 268h1v1h-1zM291 268h1v1h-1zM104 269h2v1h-2zM109 269h1v1h-1zM116 269h1v1h-1zM160 269h1v1h-1zM239 269h1v1h-1zM241 269h1v1h-1zM243 269h1v1h-1zM247 269h1v1h-1zM281 269h2v1h-2zM284 269h1v1h-1zM288 269h1v1h-1zM292 269h4v1h-4zM101 270h1v1h-1zM106 270h1v1h-1zM108 270h1v1h-1zM241 270h1v1h-1zM244 270h2v1h-2zM266 270h1v1h-1zM282 270h1v1h-1zM284 270h2v1h-2zM287 270h3v1h-3zM110 271h1v1h-1zM241 271h1v1h-1zM249 271h1v1h-1zM280 271h1v1h-1zM282 271h2v1h-2zM285 271h2v1h-2zM288 271h1v1h-1zM290 271h1v1h-1zM293 271h1v1h-1zM113 272h1v1h-1zM117 272h1v1h-1zM125 272h1v1h-1zM238 272h1v1h-1zM243 272h1v1h-1zM245 272h1v1h-1zM248 272h1v1h-1zM279 272h1v1h-1zM283 272h1v1h-1zM285 272h4v1h-4zM290 272h1v1h-1zM293 272h1v1h-1zM99 273h1v1h-1zM105 273h1v1h-1zM108 273h1v1h-1zM111 273h1v1h-1zM114 273h1v1h-1zM117 273h1v1h-1zM246 273h1v1h-1zM275 273h2v1h-2zM281 273h1v1h-1zM283 273h1v1h-1zM288 273h1v1h-1zM290 273h1v1h-1zM113 274h1v1h-1zM244 274h1v1h-1zM246 274h1v1h-1zM281 274h1v1h-1zM284 274h1v1h-1zM288 274h1v1h-1zM293 274h1v1h-1zM286 275h1v1h-1zM288 275h1v1h-1zM292 275h1v1h-1zM296 275h1v1h-1zM98 276h1v1h-1zM102 276h1v1h-1zM115 276h1v1h-1zM282 276h2v1h-2zM290 276h1v1h-1zM98 277h1v1h-1zM115 277h1v1h-1zM236 277h1v1h-1zM283 277h1v1h-1zM290 277h1v1h-1zM296 277h1v1h-1zM90 278h1v1h-1zM99 278h1v1h-1zM101 278h1v1h-1zM285 279h1v1h-1zM111 283h1v1h-1zM99 284h1v1h-1z"/><path fill="#808080" d="M422 85h1v1h-1zM430 87h1v1h-1zM427 88h1v1h-1zM426 91h1v1h-1zM421 92h1v1h-1zM423 92h1v1h-1zM429 92h1v1h-1zM434 92h1v1h-1zM421 93h1v1h-1zM427 93h2v1h-2zM432 93h1v1h-1zM422 94h1v1h-1zM426 94h2v1h-2zM433 94h1v1h-1zM426 95h3v1h-3zM433 95h1v1h-1zM422 96h1v1h-1zM428 96h2v1h-2zM431 96h1v1h-1zM425 97h5v1h-5zM434 97h1v1h-1zM425 98h1v1h-1zM427 98h1v1h-1zM429 98h1v1h-1zM431 98h1v1h-1zM433 98h1v1h-1zM420 99h2v1h-2zM424 99h7v1h-7zM434 99h1v1h-1zM421 100h2v1h-2zM424 100h2v1h-2zM428 100h1v1h-1zM430 100h1v1h-1zM421 101h2v1h-2zM424 101h1v1h-1zM426 101h2v1h-2zM430 101h1v1h-1zM432 101h1v1h-1zM422 102h1v1h-1zM424 102h1v1h-1zM427 102h2v1h-2zM430 102h1v1h-1zM431 103h1v1h-1zM433 103h1v1h-1zM426 104h1v1h-1zM429 104h1v1h-1zM431 104h1v1h-1zM421 105h1v1h-1zM424 105h1v1h-1zM426 105h1v1h-1zM430 105h1v1h-1zM426 106h1v1h-1zM429 106h1v1h-1zM434 106h1v1h-1zM427 107h1v1h-1zM428 108h1v1h-1zM423 110h1v1h-1zM430 111h1v1h-1zM426 113h1v1h-1zM430 115h1v1h-1z"/><path fill="#6e6e6e" d="M112 204h1v1h-1zM114 204h4v1h-4zM108 205h3v1h-3zM112 205h3v1h-3zM116 205h1v1h-1zM118 205h1v1h-1zM105 206h1v1h-1zM108 206h7v1h-7zM116 206h1v1h-1zM119 206h1v1h-1zM109 207h4v1h-4zM114 207h4v1h-4zM119 207h2v1h-2zM106 208h14v1h-14zM122 208h1v1h-1zM104 209h2v1h-2zM107 209h3v1h-3zM111 209h10v1h-10zM104 210h1v1h-1zM107 210h14v1h-14zM122 210h1v1h-1zM104 211h19v1h-19zM104 212h19v1h-19zM103 213h11v1h-11zM116 213h5v1h-5zM123 213h1v1h-1zM101 214h1v1h-1zM105 214h17v1h-17zM102 215h1v1h-1zM104 215h8v1h-8zM113 215h7v1h-7zM121 215h4v1h-4zM103 216h19v1h-19zM123 216h2v1h-2zM103 217h18v1h-18zM122 217h1v1h-1zM100 218h1v1h-1zM102 218h22v1h-22zM100 219h1v1h-1zM102 219h23v1h-23zM101 220h20v1h-20zM122 220h2v1h-2zM101 221h1v1h-1zM103 221h20v1h-20zM102 222h21v1h-21zM124 222h3v1h-3zM101 223h17v1h-17zM120 223h4v1h-4zM99 224h2v1h-2zM102 224h21v1h-21zM100 225h1v1h-1zM102 225h10v1h-10zM113 225h9v1h-9zM123 225h1v1h-1zM100 226h1v1h-1zM102 226h9v1h-9zM112 226h12v1h-12zM101 227h1v1h-1zM103 227h4v1h-4zM108 227h15v1h-15zM126 227h1v1h-1zM100 228h1v1h-1zM102 228h6v1h-6zM109 228h14v1h-14zM98 229h1v1h-1zM101 229h15v1h-15zM117 229h5v1h-5zM123 229h1v1h-1zM98 230h1v1h-1zM100 230h18v1h-18zM119 230h4v1h-4zM96 231h1v1h-1zM100 231h19v1h-19zM120 231h4v1h-4zM125 231h1v1h-1zM99 232h16v1h-16zM116 232h6v1h-6zM99 233h12v1h-12zM112 233h9v1h-9zM122 233h1v1h-1zM100 234h1v1h-1zM102 234h23v1h-23zM99 235h2v1h-2zM102 235h3v1h-3zM106 235h16v1h-16zM123 235h1v1h-1zM100 236h22v1h-22zM98 237h1v1h-1zM100 237h6v1h-6zM107 237h10v1h-10zM118 237h4v1h-4zM99 238h8v1h-8zM108 238h4v1h-4zM113 238h9v1h-9zM100 239h21v1h-21zM122 239h1v1h-1zM100 240h8v1h-8zM109 240h13v1h-13zM98 241h1v1h-1zM100 241h23v1h-23zM99 242h12v1h-12zM112 242h8v1h-8zM101 243h19v1h-19zM98 244h1v1h-1zM100 244h6v1h-6zM107 244h10v1h-10zM118 244h3v1h-3zM122 244h1v1h-1zM101 245h8v1h-8zM111 245h9v1h-9zM100 246h11v1h-11zM112 246h6v1h-6zM119 246h1v1h-1zM98 247h1v1h-1zM101 247h7v1h-7zM109 247h9v1h-9zM101 248h1v1h-1zM103 248h11v1h-11zM115 248h4v1h-4zM101 249h2v1h-2zM104 249h15v1h-15zM103 250h13v1h-13zM118 250h1v1h-1zM103 251h13v1h-13zM104 252h1v1h-1zM106 252h9v1h-9zM107 253h1v1h-1zM110 253h2v1h-2zM113 253h2v1h-2zM116 253h1v1h-1zM105 254h2v1h-2zM108 254h4v1h-4zM114 254h1v1h-1zM106 255h1v1h-1zM110 255h2v1h-2zM113 255h3v1h-3zM106 256h1v1h-1zM112 256h1v1h-1z"/><path fill="#5e5e5e" d="M113 181h1v1h-1zM113 186h1v1h-1zM110 193h1v1h-1zM109 194h1v1h-1zM127 196h1v1h-1zM109 198h1v1h-1zM111 198h1v1h-1zM113 198h1v1h-1zM116 198h1v1h-1zM134 198h1v1h-1zM104 200h2v1h-2zM117 200h1v1h-1zM278 200h1v1h-1zM103 201h2v1h-2zM110 201h1v1h-1zM99 202h1v1h-1zM107 202h1v1h-1zM111 202h1v1h-1zM115 202h2v1h-2zM118 202h2v1h-2zM91 203h1v1h-1zM105 203h1v1h-1zM117 203h1v1h-1zM126 203h1v1h-1zM280 203h1v1h-1zM282 203h1v1h-1zM286 203h1v1h-1zM289 203h1v1h-1zM299 203h1v1h-1zM111 204h1v1h-1zM115 204h1v1h-1zM117 204h1v1h-1zM121 204h1v1h-1zM276 204h1v1h-1zM290 204h1v1h-1zM101 205h1v1h-1zM108 205h1v1h-1zM114 205h1v1h-1zM117 205h1v1h-1zM120 205h1v1h-1zM281 205h1v1h-1zM287 205h1v1h-1zM302 205h1v1h-1zM91 206h1v1h-1zM107 206h1v1h-1zM109 206h2v1h-2zM113 206h1v1h-1zM117 206h1v1h-1zM121 206h1v1h-1zM267 206h1v1h-1zM290 206h1v1h-1zM292 206h1v1h-1zM295 206h1v1h-1zM298 206h1v1h-1zM102 207h1v1h-1zM104 207h1v1h-1zM107 207h1v1h-1zM117 207h1v1h-1zM128 207h1v1h-1zM288 207h2v1h-2zM292 207h1v1h-1zM100 208h1v1h-1zM111 208h1v1h-1zM119 208h1v1h-1zM122 208h2v1h-2zM126 208h1v1h-1zM281 208h1v1h-1zM286 208h2v1h-2zM295 208h1v1h-1zM298 208h1v1h-1zM303 208h1v1h-1zM98 209h1v1h-1zM109 209h1v1h-1zM115 209h1v1h-1zM118 209h1v1h-1zM123 209h1v1h-1zM130 209h1v1h-1zM141 209h1v1h-1zM279 209h1v1h-1zM288 209h2v1h-2zM291 209h1v1h-1zM296 209h1v1h-1zM308 209h1v1h-1zM98 210h2v1h-2zM110 210h1v1h-1zM113 210h2v1h-2zM121 210h1v1h-1zM290 210h2v1h-2zM103 211h1v1h-1zM108 211h1v1h-1zM111 211h1v1h-1zM113 211h1v1h-1zM120 211h3v1h-3zM125 211h1v1h-1zM130 211h1v1h-1zM276 211h1v1h-1zM288 211h1v1h-1zM293 211h1v1h-1zM297 211h1v1h-1zM102 212h2v1h-2zM105 212h2v1h-2zM109 212h1v1h-1zM112 212h1v1h-1zM115 212h1v1h-1zM120 212h2v1h-2zM127 212h1v1h-1zM275 212h1v1h-1zM282 212h1v1h-1zM284 212h1v1h-1zM289 212h1v1h-1zM297 212h1v1h-1zM299 212h1v1h-1zM301 212h1v1h-1zM93 213h1v1h-1zM110 213h5v1h-5zM116 213h1v1h-1zM118 213h1v1h-1zM120 213h2v1h-2zM123 213h2v1h-2zM126 213h1v1h-1zM286 213h1v1h-1zM99 214h1v1h-1zM102 214h1v1h-1zM108 214h3v1h-3zM112 214h1v1h-1zM114 214h1v1h-1zM118 214h1v1h-1zM121 214h2v1h-2zM124 214h1v1h-1zM131 214h1v1h-1zM135 214h1v1h-1zM273 214h1v1h-1zM281 214h1v1h-1zM284 214h1v1h-1zM286 214h1v1h-1zM289 214h2v1h-2zM292 214h2v1h-2zM95 215h1v1h-1zM98 215h1v1h-1zM100 215h1v1h-1zM103 215h2v1h-2zM106 215h2v1h-2zM110 215h2v1h-2zM113 215h5v1h-5zM131 215h1v1h-1zM272 215h1v1h-1zM276 215h1v1h-1zM283 215h1v1h-1zM290 215h1v1h-1zM292 215h2v1h-2zM100 216h2v1h-2zM103 216h1v1h-1zM105 216h1v1h-1zM110 216h1v1h-1zM112 216h1v1h-1zM114 216h3v1h-3zM118 216h1v1h-1zM120 216h1v1h-1zM279 216h1v1h-1zM281 216h1v1h-1zM285 216h1v1h-1zM288 216h3v1h-3zM292 216h1v1h-1zM298 216h1v1h-1zM305 216h1v1h-1zM96 217h1v1h-1zM99 217h1v1h-1zM106 217h4v1h-4zM111 217h2v1h-2zM116 217h1v1h-1zM120 217h3v1h-3zM127 217h1v1h-1zM272 217h1v1h-1zM278 217h1v1h-1zM283 217h1v1h-1zM287 217h1v1h-1zM290 217h2v1h-2zM293 217h3v1h-3zM298 217h2v1h-2zM106 218h1v1h-1zM112 218h1v1h-1zM114 218h2v1h-2zM118 218h4v1h-4zM125 218h1v1h-1zM131 218h1v1h-1zM272 218h2v1h-2zM281 218h1v1h-1zM286 218h3v1h-3zM297 218h1v1h-1zM106 219h1v1h-1zM108 219h2v1h-2zM113 219h1v1h-1zM116 219h1v1h-1zM119 219h1v1h-1zM122 219h1v1h-1zM127 219h1v1h-1zM130 219h1v1h-1zM276 219h1v1h-1zM280 219h1v1h-1zM285 219h2v1h-2zM288 219h1v1h-1zM291 219h1v1h-1zM293 219h1v1h-1zM297 219h2v1h-2zM300 219h1v1h-1zM90 220h1v1h-1zM100 220h1v1h-1zM103 220h2v1h-2zM106 220h3v1h-3zM110 220h1v1h-1zM113 220h2v1h-2zM118 220h2v1h-2zM131 220h1v1h-1zM277 220h3v1h-3zM282 220h1v1h-1zM284 220h1v1h-1zM286 220h3v1h-3zM290 220h6v1h-6zM299 220h1v1h-1zM88 221h1v1h-1zM97 221h2v1h-2zM100 221h2v1h-2zM103 221h2v1h-2zM108 221h2v1h-2zM113 221h2v1h-2zM116 221h1v1h-1zM123 221h1v1h-1zM138 221h1v1h-1zM273 221h1v1h-1zM280 221h4v1h-4zM286 221h1v1h-1zM288 221h3v1h-3zM292 221h3v1h-3zM296 221h1v1h-1zM298 221h2v1h-2zM304 221h1v1h-1zM308 221h1v1h-1zM100 222h1v1h-1zM103 222h1v1h-1zM105 222h2v1h-2zM108 222h2v1h-2zM111 222h4v1h-4zM116 222h1v1h-1zM118 222h1v1h-1zM120 222h2v1h-2zM273 222h1v1h-1zM278 222h1v1h-1zM280 222h3v1h-3zM285 222h1v1h-1zM287 222h3v1h-3zM293 222h3v1h-3zM300 222h1v1h-1zM95 223h1v1h-1zM101 223h2v1h-2zM104 223h7v1h-7zM112 223h1v1h-1zM114 223h4v1h-4zM119 223h2v1h-2zM122 223h1v1h-1zM128 223h1v1h-1zM272 223h2v1h-2zM275 223h2v1h-2zM281 223h2v1h-2zM284 223h1v1h-1zM287 223h2v1h-2zM295 223h2v1h-2zM90 224h1v1h-1zM105 224h3v1h-3zM109 224h1v1h-1zM111 224h1v1h-1zM113 224h1v1h-1zM116 224h1v1h-1zM118 224h3v1h-3zM260 224h1v1h-1zM269 224h1v1h-1zM272 224h1v1h-1zM274 224h1v1h-1zM277 224h3v1h-3zM287 224h6v1h-6zM295 224h1v1h-1zM300 224h2v1h-2zM308 224h1v1h-1zM454 224h1v1h-1zM462 224h1v1h-1zM471 224h1v1h-1zM101 225h1v1h-1zM103 225h3v1h-3zM107 225h1v1h-1zM109 225h2v1h-2zM113 225h1v1h-1zM115 225h6v1h-6zM277 225h2v1h-2zM282 225h1v1h-1zM284 225h1v1h-1zM287 225h1v1h-1zM289 225h1v1h-1zM291 225h2v1h-2zM295 225h1v1h-1zM299 225h1v1h-1zM465 225h1v1h-1zM469 225h1v1h-1zM101 226h2v1h-2zM106 226h1v1h-1zM108 226h2v1h-2zM112 226h1v1h-1zM114 226h2v1h-2zM117 226h1v1h-1zM120 226h1v1h-1zM122 226h2v1h-2zM273 226h3v1h-3zM278 226h1v1h-1zM282 226h1v1h-1zM291 226h2v1h-2zM294 226h1v1h-1zM297 226h1v1h-1zM460 226h1v1h-1zM468 226h1v1h-1zM97 227h1v1h-1zM100 227h1v1h-1zM104 227h2v1h-2zM109 227h4v1h-4zM116 227h2v1h-2zM121 227h1v1h-1zM125 227h1v1h-1zM268 227h1v1h-1zM270 227h1v1h-1zM272 227h1v1h-1zM280 227h1v1h-1zM283 227h1v1h-1zM287 227h1v1h-1zM289 227h1v1h-1zM291 227h1v1h-1zM293 227h1v1h-1zM295 227h2v1h-2zM298 227h2v1h-2zM306 227h1v1h-1zM456 227h1v1h-1zM462 227h1v1h-1zM89 228h1v1h-1zM97 228h1v1h-1zM99 228h1v1h-1zM102 228h2v1h-2zM105 228h3v1h-3zM109 228h1v1h-1zM112 228h3v1h-3zM119 228h2v1h-2zM124 228h1v1h-1zM276 228h3v1h-3zM280 228h1v1h-1zM282 228h4v1h-4zM287 228h2v1h-2zM291 228h1v1h-1zM295 228h3v1h-3zM301 228h2v1h-2zM304 228h1v1h-1zM309 228h1v1h-1zM457 228h1v1h-1zM467 228h1v1h-1zM97 229h1v1h-1zM99 229h1v1h-1zM101 229h4v1h-4zM107 229h2v1h-2zM110 229h1v1h-1zM112 229h2v1h-2zM115 229h1v1h-1zM117 229h2v1h-2zM120 229h1v1h-1zM122 229h1v1h-1zM124 229h1v1h-1zM269 229h1v1h-1zM271 229h1v1h-1zM273 229h3v1h-3zM279 229h4v1h-4zM285 229h6v1h-6zM293 229h2v1h-2zM300 229h1v1h-1zM302 229h1v1h-1zM308 229h1v1h-1zM458 229h1v1h-1zM462 229h1v1h-1zM88 230h1v1h-1zM98 230h2v1h-2zM102 230h7v1h-7zM110 230h1v1h-1zM112 230h5v1h-5zM118 230h2v1h-2zM121 230h1v1h-1zM123 230h1v1h-1zM129 230h1v1h-1zM261 230h1v1h-1zM275 230h1v1h-1zM278 230h11v1h-11zM290 230h2v1h-2zM294 230h2v1h-2zM299 230h2v1h-2zM458 230h1v1h-1zM460 230h1v1h-1zM465 230h2v1h-2zM474 230h1v1h-1zM84 231h1v1h-1zM98 231h2v1h-2zM102 231h1v1h-1zM105 231h1v1h-1zM107 231h1v1h-1zM109 231h1v1h-1zM111 231h3v1h-3zM118 231h1v1h-1zM120 231h2v1h-2zM270 231h3v1h-3zM276 231h1v1h-1zM282 231h2v1h-2zM285 231h3v1h-3zM291 231h1v1h-1zM295 231h1v1h-1zM461 231h1v1h-1zM465 231h3v1h-3zM472 231h1v1h-1zM474 231h1v1h-1zM476 231h1v1h-1zM97 232h1v1h-1zM102 232h1v1h-1zM105 232h1v1h-1zM108 232h1v1h-1zM112 232h2v1h-2zM115 232h3v1h-3zM119 232h3v1h-3zM264 232h1v1h-1zM277 232h1v1h-1zM283 232h4v1h-4zM288 232h1v1h-1zM291 232h9v1h-9zM302 232h1v1h-1zM462 232h1v1h-1zM464 232h3v1h-3zM468 232h3v1h-3zM472 232h1v1h-1zM93 233h1v1h-1zM101 233h1v1h-1zM103 233h2v1h-2zM106 233h2v1h-2zM110 233h5v1h-5zM116 233h1v1h-1zM118 233h2v1h-2zM121 233h2v1h-2zM128 233h1v1h-1zM276 233h4v1h-4zM281 233h6v1h-6zM290 233h2v1h-2zM295 233h2v1h-2zM299 233h1v1h-1zM456 233h1v1h-1zM459 233h6v1h-6zM466 233h2v1h-2zM469 233h2v1h-2zM97 234h1v1h-1zM101 234h1v1h-1zM107 234h6v1h-6zM116 234h1v1h-1zM124 234h1v1h-1zM130 234h2v1h-2zM271 234h1v1h-1zM273 234h3v1h-3zM279 234h1v1h-1zM283 234h6v1h-6zM290 234h1v1h-1zM292 234h1v1h-1zM294 234h1v1h-1zM300 234h1v1h-1zM303 234h1v1h-1zM453 234h1v1h-1zM461 234h3v1h-3zM468 234h3v1h-3zM93 235h1v1h-1zM95 235h1v1h-1zM98 235h1v1h-1zM100 235h1v1h-1zM105 235h1v1h-1zM107 235h1v1h-1zM109 235h5v1h-5zM116 235h1v1h-1zM118 235h2v1h-2zM125 235h1v1h-1zM264 235h1v1h-1zM269 235h1v1h-1zM274 235h1v1h-1zM277 235h7v1h-7zM286 235h1v1h-1zM288 235h3v1h-3zM292 235h1v1h-1zM294 235h1v1h-1zM296 235h2v1h-2zM302 235h1v1h-1zM453 235h1v1h-1zM467 235h1v1h-1zM469 235h1v1h-1zM472 235h1v1h-1zM100 236h1v1h-1zM102 236h3v1h-3zM108 236h2v1h-2zM111 236h5v1h-5zM119 236h2v1h-2zM123 236h3v1h-3zM267 236h1v1h-1zM278 236h1v1h-1zM280 236h7v1h-7zM291 236h4v1h-4zM304 236h1v1h-1zM452 236h1v1h-1zM464 236h1v1h-1zM466 236h2v1h-2zM470 236h1v1h-1zM474 236h1v1h-1zM97 237h1v1h-1zM100 237h5v1h-5zM107 237h1v1h-1zM109 237h4v1h-4zM114 237h2v1h-2zM117 237h2v1h-2zM120 237h1v1h-1zM122 237h1v1h-1zM131 237h1v1h-1zM273 237h5v1h-5zM279 237h1v1h-1zM281 237h6v1h-6zM293 237h2v1h-2zM301 237h2v1h-2zM457 237h1v1h-1zM459 237h2v1h-2zM463 237h1v1h-1zM465 237h1v1h-1zM468 237h2v1h-2zM472 237h1v1h-1zM475 237h1v1h-1zM94 238h1v1h-1zM97 238h1v1h-1zM103 238h7v1h-7zM111 238h1v1h-1zM114 238h2v1h-2zM117 238h7v1h-7zM129 238h1v1h-1zM141 238h1v1h-1zM270 238h1v1h-1zM275 238h1v1h-1zM277 238h2v1h-2zM280 238h2v1h-2zM283 238h1v1h-1zM285 238h1v1h-1zM289 238h2v1h-2zM459 238h1v1h-1zM461 238h1v1h-1zM464 238h2v1h-2zM469 238h2v1h-2zM472 238h1v1h-1zM83 239h1v1h-1zM90 239h1v1h-1zM101 239h1v1h-1zM104 239h4v1h-4zM109 239h2v1h-2zM112 239h1v1h-1zM115 239h2v1h-2zM118 239h1v1h-1zM120 239h1v1h-1zM125 239h2v1h-2zM130 239h1v1h-1zM274 239h3v1h-3zM280 239h1v1h-1zM282 239h1v1h-1zM284 239h2v1h-2zM287 239h3v1h-3zM291 239h1v1h-1zM293 239h1v1h-1zM298 239h1v1h-1zM301 239h2v1h-2zM446 239h1v1h-1zM457 239h1v1h-1zM464 239h2v1h-2zM469 239h1v1h-1zM472 239h1v1h-1zM475 239h1v1h-1zM482 239h1v1h-1zM99 240h1v1h-1zM101 240h2v1h-2zM112 240h1v1h-1zM118 240h1v1h-1zM124 240h1v1h-1zM275 240h1v1h-1zM280 240h1v1h-1zM284 240h3v1h-3zM288 240h2v1h-2zM291 240h1v1h-1zM293 240h4v1h-4zM298 240h2v1h-2zM449 240h1v1h-1zM453 240h1v1h-1zM457 240h4v1h-4zM462 240h1v1h-1zM465 240h2v1h-2zM468 240h3v1h-3zM473 240h1v1h-1zM476 240h1v1h-1zM88 241h1v1h-1zM98 241h1v1h-1zM100 241h2v1h-2zM103 241h1v1h-1zM106 241h1v1h-1zM108 241h1v1h-1zM110 241h1v1h-1zM116 241h2v1h-2zM121 241h1v1h-1zM125 241h1v1h-1zM272 241h2v1h-2zM275 241h1v1h-1zM279 241h3v1h-3zM283 241h1v1h-1zM286 241h5v1h-5zM292 241h3v1h-3zM300 241h1v1h-1zM447 241h1v1h-1zM452 241h3v1h-3zM456 241h1v1h-1zM461 241h2v1h-2zM466 241h6v1h-6zM474 241h2v1h-2zM477 241h1v1h-1zM98 242h1v1h-1zM101 242h1v1h-1zM110 242h1v1h-1zM113 242h2v1h-2zM116 242h2v1h-2zM123 242h1v1h-1zM275 242h3v1h-3zM279 242h1v1h-1zM283 242h4v1h-4zM293 242h1v1h-1zM297 242h1v1h-1zM453 242h1v1h-1zM455 242h1v1h-1zM457 242h1v1h-1zM459 242h4v1h-4zM465 242h3v1h-3zM471 242h4v1h-4zM96 243h1v1h-1zM98 243h1v1h-1zM103 243h2v1h-2zM108 243h3v1h-3zM113 243h3v1h-3zM118 243h1v1h-1zM120 243h1v1h-1zM272 243h1v1h-1zM276 243h3v1h-3zM282 243h3v1h-3zM286 243h3v1h-3zM296 243h1v1h-1zM298 243h1v1h-1zM455 243h2v1h-2zM461 243h1v1h-1zM463 243h4v1h-4zM468 243h1v1h-1zM472 243h2v1h-2zM95 244h1v1h-1zM100 244h1v1h-1zM103 244h1v1h-1zM114 244h1v1h-1zM117 244h2v1h-2zM120 244h1v1h-1zM271 244h1v1h-1zM273 244h1v1h-1zM276 244h4v1h-4zM282 244h2v1h-2zM285 244h1v1h-1zM287 244h3v1h-3zM291 244h1v1h-1zM293 244h1v1h-1zM296 244h1v1h-1zM299 244h1v1h-1zM304 244h1v1h-1zM453 244h1v1h-1zM456 244h1v1h-1zM458 244h3v1h-3zM462 244h3v1h-3zM466 244h4v1h-4zM472 244h1v1h-1zM480 244h1v1h-1zM91 245h1v1h-1zM96 245h2v1h-2zM102 245h1v1h-1zM108 245h3v1h-3zM112 245h2v1h-2zM117 245h1v1h-1zM122 245h1v1h-1zM271 245h1v1h-1zM275 245h2v1h-2zM284 245h1v1h-1zM286 245h2v1h-2zM290 245h1v1h-1zM293 245h1v1h-1zM296 245h1v1h-1zM298 245h1v1h-1zM453 245h1v1h-1zM455 245h2v1h-2zM458 245h3v1h-3zM462 245h1v1h-1zM464 245h1v1h-1zM468 245h4v1h-4zM474 245h1v1h-1zM92 246h1v1h-1zM101 246h2v1h-2zM104 246h1v1h-1zM108 246h3v1h-3zM113 246h2v1h-2zM116 246h2v1h-2zM263 246h1v1h-1zM270 246h2v1h-2zM278 246h1v1h-1zM281 246h1v1h-1zM283 246h2v1h-2zM286 246h1v1h-1zM288 246h1v1h-1zM292 246h2v1h-2zM298 246h1v1h-1zM456 246h3v1h-3zM461 246h1v1h-1zM463 246h1v1h-1zM465 246h4v1h-4zM470 246h1v1h-1zM473 246h1v1h-1zM98 247h1v1h-1zM102 247h1v1h-1zM104 247h2v1h-2zM108 247h1v1h-1zM110 247h1v1h-1zM114 247h1v1h-1zM116 247h1v1h-1zM123 247h1v1h-1zM274 247h1v1h-1zM276 247h1v1h-1zM279 247h1v1h-1zM282 247h3v1h-3zM288 247h5v1h-5zM294 247h1v1h-1zM296 247h1v1h-1zM298 247h1v1h-1zM304 247h1v1h-1zM457 247h2v1h-2zM461 247h4v1h-4zM466 247h1v1h-1zM469 247h1v1h-1zM471 247h1v1h-1zM475 247h3v1h-3zM99 248h1v1h-1zM104 248h1v1h-1zM108 248h1v1h-1zM110 248h1v1h-1zM113 248h2v1h-2zM121 248h1v1h-1zM264 248h2v1h-2zM269 248h1v1h-1zM273 248h3v1h-3zM277 248h1v1h-1zM281 248h1v1h-1zM283 248h1v1h-1zM286 248h1v1h-1zM288 248h3v1h-3zM297 248h1v1h-1zM453 248h1v1h-1zM455 248h2v1h-2zM458 248h6v1h-6zM465 248h1v1h-1zM469 248h2v1h-2zM472 248h3v1h-3zM97 249h1v1h-1zM100 249h1v1h-1zM103 249h2v1h-2zM111 249h1v1h-1zM113 249h1v1h-1zM125 249h1v1h-1zM279 249h1v1h-1zM282 249h1v1h-1zM285 249h2v1h-2zM288 249h2v1h-2zM291 249h1v1h-1zM296 249h1v1h-1zM452 249h1v1h-1zM455 249h1v1h-1zM459 249h1v1h-1zM461 249h1v1h-1zM463 249h2v1h-2zM466 249h1v1h-1zM468 249h2v1h-2zM472 249h1v1h-1zM476 249h1v1h-1zM95 250h2v1h-2zM105 250h1v1h-1zM111 250h1v1h-1zM113 250h3v1h-3zM267 250h2v1h-2zM274 250h1v1h-1zM277 250h1v1h-1zM279 250h3v1h-3zM285 250h2v1h-2zM289 250h4v1h-4zM296 250h1v1h-1zM300 250h1v1h-1zM455 250h1v1h-1zM457 250h4v1h-4zM462 250h3v1h-3zM468 250h2v1h-2zM477 250h1v1h-1zM100 251h1v1h-1zM103 251h2v1h-2zM109 251h3v1h-3zM268 251h1v1h-1zM276 251h5v1h-5zM282 251h5v1h-5zM288 251h6v1h-6zM300 251h1v1h-1zM456 251h2v1h-2zM459 251h3v1h-3zM464 251h5v1h-5zM475 251h1v1h-1zM478 251h1v1h-1zM482 251h1v1h-1zM96 252h1v1h-1zM99 252h1v1h-1zM101 252h2v1h-2zM112 252h1v1h-1zM272 252h1v1h-1zM276 252h2v1h-2zM279 252h1v1h-1zM285 252h3v1h-3zM291 252h1v1h-1zM449 252h1v1h-1zM457 252h1v1h-1zM461 252h3v1h-3zM466 252h1v1h-1zM468 252h2v1h-2zM471 252h1v1h-1zM475 252h1v1h-1zM98 253h1v1h-1zM106 253h1v1h-1zM108 253h1v1h-1zM110 253h1v1h-1zM120 253h1v1h-1zM274 253h1v1h-1zM278 253h1v1h-1zM281 253h1v1h-1zM284 253h1v1h-1zM286 253h2v1h-2zM289 253h2v1h-2zM292 253h2v1h-2zM296 253h1v1h-1zM456 253h1v1h-1zM458 253h1v1h-1zM460 253h1v1h-1zM462 253h5v1h-5zM468 253h1v1h-1zM470 253h1v1h-1zM474 253h2v1h-2zM89 254h1v1h-1zM111 254h2v1h-2zM276 254h1v1h-1zM278 254h1v1h-1zM280 254h2v1h-2zM285 254h2v1h-2zM288 254h2v1h-2zM291 254h2v1h-2zM295 254h1v1h-1zM302 254h1v1h-1zM456 254h1v1h-1zM461 254h5v1h-5zM467 254h2v1h-2zM477 254h1v1h-1zM273 255h1v1h-1zM276 255h1v1h-1zM278 255h1v1h-1zM281 255h1v1h-1zM283 255h1v1h-1zM286 255h2v1h-2zM293 255h2v1h-2zM444 255h1v1h-1zM455 255h1v1h-1zM457 255h1v1h-1zM463 255h1v1h-1zM465 255h1v1h-1zM469 255h1v1h-1zM473 255h1v1h-1zM476 255h1v1h-1zM93 256h1v1h-1zM97 256h1v1h-1zM101 256h1v1h-1zM106 256h1v1h-1zM111 256h1v1h-1zM118 256h2v1h-2zM271 256h1v1h-1zM278 256h1v1h-1zM280 256h3v1h-3zM286 256h2v1h-2zM292 256h2v1h-2zM454 256h1v1h-1zM459 256h2v1h-2zM462 256h9v1h-9zM91 257h1v1h-1zM95 257h1v1h-1zM100 257h1v1h-1zM103 257h1v1h-1zM108 257h1v1h-1zM124 257h1v1h-1zM269 257h1v1h-1zM271 257h1v1h-1zM281 257h1v1h-1zM284 257h2v1h-2zM288 257h1v1h-1zM291 257h2v1h-2zM295 257h1v1h-1zM299 257h2v1h-2zM450 257h1v1h-1zM458 257h1v1h-1zM460 257h2v1h-2zM464 257h1v1h-1zM466 257h3v1h-3zM119 258h1v1h-1zM273 258h1v1h-1zM277 258h2v1h-2zM281 258h1v1h-1zM283 258h1v1h-1zM287 258h1v1h-1zM455 258h1v1h-1zM459 258h1v1h-1zM462 258h2v1h-2zM466 258h2v1h-2zM473 258h1v1h-1zM476 258h1v1h-1zM104 259h1v1h-1zM107 259h1v1h-1zM110 259h1v1h-1zM273 259h1v1h-1zM275 259h1v1h-1zM279 259h1v1h-1zM283 259h2v1h-2zM286 259h1v1h-1zM292 259h1v1h-1zM295 259h1v1h-1zM454 259h3v1h-3zM458 259h1v1h-1zM460 259h3v1h-3zM465 259h1v1h-1zM467 259h1v1h-1zM100 260h1v1h-1zM272 260h1v1h-1zM277 260h2v1h-2zM280 260h1v1h-1zM282 260h1v1h-1zM288 260h1v1h-1zM291 260h1v1h-1zM293 260h2v1h-2zM453 260h1v1h-1zM458 260h2v1h-2zM461 260h1v1h-1zM466 260h1v1h-1zM93 261h1v1h-1zM97 261h1v1h-1zM101 261h1v1h-1zM106 261h1v1h-1zM282 261h1v1h-1zM284 261h1v1h-1zM289 261h1v1h-1zM292 261h3v1h-3zM298 261h1v1h-1zM465 261h1v1h-1zM468 261h2v1h-2zM277 262h1v1h-1zM282 262h3v1h-3zM287 262h2v1h-2zM290 262h1v1h-1zM294 262h1v1h-1zM298 262h1v1h-1zM301 262h1v1h-1zM453 262h1v1h-1zM457 262h1v1h-1zM464 262h2v1h-2zM475 262h1v1h-1zM104 263h1v1h-1zM279 263h2v1h-2zM283 263h1v1h-1zM293 263h1v1h-1zM295 263h1v1h-1zM464 263h1v1h-1zM467 263h2v1h-2zM472 263h2v1h-2zM276 264h1v1h-1zM280 264h1v1h-1zM286 264h2v1h-2zM290 264h1v1h-1zM292 264h2v1h-2zM451 264h1v1h-1zM461 264h1v1h-1zM463 264h1v1h-1zM480 264h1v1h-1zM107 265h1v1h-1zM110 265h1v1h-1zM272 265h3v1h-3zM276 265h1v1h-1zM282 265h1v1h-1zM289 265h1v1h-1zM460 265h1v1h-1zM468 265h1v1h-1zM275 266h1v1h-1zM282 266h1v1h-1zM289 266h1v1h-1zM293 266h1v1h-1zM463 266h1v1h-1zM476 266h1v1h-1zM272 267h1v1h-1zM275 267h1v1h-1zM285 267h1v1h-1zM294 267h1v1h-1zM462 267h1v1h-1zM103 268h1v1h-1zM269 268h1v1h-1zM275 268h1v1h-1zM282 268h1v1h-1zM285 268h1v1h-1zM295 268h1v1h-1zM298 268h2v1h-2zM452 268h1v1h-1zM462 268h1v1h-1zM271 269h1v1h-1zM273 269h1v1h-1zM275 269h1v1h-1zM284 269h2v1h-2zM289 269h1v1h-1zM300 269h1v1h-1zM277 270h2v1h-2zM282 270h1v1h-1zM284 270h1v1h-1zM295 270h1v1h-1zM257 271h1v1h-1zM269 271h1v1h-1zM281 271h1v1h-1zM288 271h1v1h-1zM481 271h1v1h-1zM290 272h1v1h-1zM279 273h1v1h-1zM279 274h2v1h-2zM295 274h1v1h-1zM116 275h1v1h-1zM288 275h1v1h-1zM284 276h1v1h-1zM286 276h1v1h-1zM292 276h1v1h-1zM298 276h1v1h-1zM287 277h1v1h-1zM282 278h1v1h-1zM287 278h1v1h-1zM275 279h1v1h-1zM293 279h1v1h-1zM269 281h1v1h-1zM290 281h1v1h-1zM282 282h1v1h-1zM273 283h1v1h-1zM290 283h1v1h-1z"/><path fill="#1a1a1a" d="M73 253h1v1h-1zM70 254h1v1h-1zM68 255h2v1h-2zM71 255h1v1h-1zM73 255h3v1h-3zM77 255h2v1h-2zM65 256h1v1h-1zM68 256h1v1h-1zM72 256h1v1h-1zM75 256h3v1h-3zM79 256h1v1h-1zM66 257h1v1h-1zM68 257h4v1h-4zM74 257h1v1h-1zM76 257h1v1h-1zM65 258h1v1h-1zM70 258h6v1h-6zM78 258h1v1h-1zM64 259h1v1h-1zM66 259h6v1h-6zM74 259h1v1h-1zM76 259h3v1h-3zM80 259h2v1h-2zM65 260h6v1h-6zM73 260h1v1h-1zM75 260h5v1h-5zM63 261h1v1h-1zM67 261h2v1h-2zM70 261h3v1h-3zM74 261h6v1h-6zM65 262h1v1h-1zM68 262h3v1h-3zM77 262h1v1h-1zM81 262h1v1h-1zM64 263h1v1h-1zM66 263h3v1h-3zM70 263h4v1h-4zM75 263h4v1h-4zM80 263h1v1h-1zM67 264h1v1h-1zM69 264h1v1h-1zM71 264h1v1h-1zM74 264h1v1h-1zM79 264h2v1h-2zM63 265h2v1h-2zM66 265h2v1h-2zM69 265h8v1h-8zM79 265h4v1h-4zM62 266h1v1h-1zM65 266h2v1h-2zM69 266h1v1h-1zM73 266h1v1h-1zM76 266h5v1h-5zM62 267h1v1h-1zM64 267h1v1h-1zM68 267h1v1h-1zM70 267h12v1h-12zM65 268h5v1h-5zM71 268h1v1h-1zM74 268h1v1h-1zM76 268h2v1h-2zM82 268h1v1h-1zM64 269h1v1h-1zM66 269h1v1h-1zM70 269h2v1h-2zM73 269h1v1h-1zM75 269h3v1h-3zM63 270h1v1h-1zM67 270h2v1h-2zM70 270h1v1h-1zM73 270h1v1h-1zM75 270h2v1h-2zM81 270h1v1h-1zM63 271h3v1h-3zM67 271h8v1h-8zM77 271h1v1h-1zM79 271h1v1h-1zM63 272h1v1h-1zM65 272h1v1h-1zM67 272h4v1h-4zM72 272h1v1h-1zM74 272h2v1h-2zM77 272h3v1h-3zM66 273h1v1h-1zM68 273h6v1h-6zM77 273h1v1h-1zM68 274h6v1h-6zM75 274h1v1h-1zM77 274h2v1h-2zM69 275h1v1h-1zM72 275h1v1h-1zM74 275h3v1h-3zM74 276h1v1h-1zM65 277h1v1h-1zM70 277h1v1h-1zM74 277h1v1h-1z"/><path fill="#6c6c6c" d="M284 208h1v1h-1zM287 208h1v1h-1zM294 208h1v1h-1zM285 209h2v1h-2zM288 209h2v1h-2zM282 210h1v1h-1zM288 210h3v1h-3zM292 210h2v1h-2zM281 211h2v1h-2zM286 211h1v1h-1zM288 211h1v1h-1zM290 211h1v1h-1zM292 211h2v1h-2zM281 212h1v1h-1zM283 212h3v1h-3zM287 212h3v1h-3zM291 212h2v1h-2zM281 213h3v1h-3zM285 213h8v1h-8zM296 213h1v1h-1zM279 214h2v1h-2zM282 214h1v1h-1zM284 214h11v1h-11zM279 215h18v1h-18zM299 215h1v1h-1zM278 216h8v1h-8zM287 216h10v1h-10zM278 217h1v1h-1zM280 217h1v1h-1zM282 217h13v1h-13zM297 217h2v1h-2zM280 218h18v1h-18zM279 219h15v1h-15zM295 219h3v1h-3zM277 220h2v1h-2zM280 220h10v1h-10zM292 220h7v1h-7zM277 221h1v1h-1zM279 221h17v1h-17zM300 221h1v1h-1zM277 222h1v1h-1zM279 222h17v1h-17zM297 222h1v1h-1zM275 223h1v1h-1zM279 223h20v1h-20zM277 224h1v1h-1zM279 224h8v1h-8zM288 224h10v1h-10zM300 224h1v1h-1zM277 225h20v1h-20zM299 225h1v1h-1zM278 226h22v1h-22zM279 227h11v1h-11zM291 227h8v1h-8zM275 228h23v1h-23zM300 228h1v1h-1zM275 229h14v1h-14zM290 229h8v1h-8zM277 230h22v1h-22zM278 231h19v1h-19zM298 231h2v1h-2zM275 232h1v1h-1zM278 232h5v1h-5zM284 232h16v1h-16zM277 233h23v1h-23zM275 234h1v1h-1zM277 234h4v1h-4zM282 234h17v1h-17zM301 234h1v1h-1zM274 235h1v1h-1zM276 235h22v1h-22zM275 236h8v1h-8zM284 236h15v1h-15zM276 237h19v1h-19zM296 237h3v1h-3zM273 238h1v1h-1zM275 238h23v1h-23zM299 238h1v1h-1zM275 239h2v1h-2zM278 239h21v1h-21zM300 239h1v1h-1zM275 240h1v1h-1zM278 240h1v1h-1zM280 240h1v1h-1zM282 240h6v1h-6zM289 240h10v1h-10zM275 241h24v1h-24zM274 242h12v1h-12zM287 242h2v1h-2zM290 242h9v1h-9zM276 243h9v1h-9zM286 243h13v1h-13zM275 244h1v1h-1zM277 244h8v1h-8zM286 244h13v1h-13zM276 245h9v1h-9zM286 245h12v1h-12zM275 246h21v1h-21zM297 246h1v1h-1zM299 246h1v1h-1zM301 246h1v1h-1zM273 247h1v1h-1zM275 247h20v1h-20zM296 247h1v1h-1zM273 248h1v1h-1zM275 248h21v1h-21zM275 249h24v1h-24zM275 250h2v1h-2zM278 250h22v1h-22zM275 251h1v1h-1zM277 251h2v1h-2zM280 251h3v1h-3zM284 251h12v1h-12zM298 251h1v1h-1zM273 252h1v1h-1zM275 252h23v1h-23zM299 252h1v1h-1zM274 253h23v1h-23zM299 253h1v1h-1zM274 254h1v1h-1zM276 254h2v1h-2zM279 254h17v1h-17zM297 254h1v1h-1zM275 255h22v1h-22zM298 255h1v1h-1zM274 256h1v1h-1zM277 256h20v1h-20zM274 257h1v1h-1zM277 257h18v1h-18zM296 257h3v1h-3zM275 258h17v1h-17zM293 258h2v1h-2zM296 258h1v1h-1zM276 259h20v1h-20zM297 259h1v1h-1zM299 259h1v1h-1zM273 260h1v1h-1zM275 260h22v1h-22zM276 261h19v1h-19zM296 261h2v1h-2zM275 262h1v1h-1zM278 262h16v1h-16zM295 262h1v1h-1zM297 262h1v1h-1zM278 263h18v1h-18zM276 264h3v1h-3zM280 264h17v1h-17zM277 265h3v1h-3zM281 265h13v1h-13zM296 265h1v1h-1zM276 266h1v1h-1zM278 266h16v1h-16zM295 266h1v1h-1zM278 267h3v1h-3zM282 267h10v1h-10zM293 267h3v1h-3zM277 268h16v1h-16zM277 269h1v1h-1zM279 269h12v1h-12zM293 269h3v1h-3zM277 270h1v1h-1zM279 270h1v1h-1zM281 270h1v1h-1zM283 270h1v1h-1zM285 270h7v1h-7zM293 270h1v1h-1zM281 271h8v1h-8zM292 271h1v1h-1zM294 271h1v1h-1zM281 272h3v1h-3zM288 272h3v1h-3zM285 273h1v1h-1zM288 273h1v1h-1zM281 274h1v1h-1zM285 274h1v1h-1zM288 274h1v1h-1z"/><path fill="#777" d="M471 226h1v1h-1zM417 227h1v1h-1zM426 229h1v1h-1zM464 229h1v1h-1zM484 229h1v1h-1zM497 229h1v1h-1zM494 230h1v1h-1zM249 231h1v1h-1zM252 235h1v1h-1zM420 235h1v1h-1zM427 235h2v1h-2zM422 236h1v1h-1zM428 236h1v1h-1zM449 236h1v1h-1zM426 237h1v1h-1zM428 237h1v1h-1zM437 237h1v1h-1zM448 237h1v1h-1zM480 237h1v1h-1zM421 238h1v1h-1zM429 238h1v1h-1zM434 238h1v1h-1zM407 239h1v1h-1zM415 239h2v1h-2zM419 239h1v1h-1zM421 239h1v1h-1zM424 239h1v1h-1zM417 240h1v1h-1zM422 240h1v1h-1zM426 240h2v1h-2zM420 241h1v1h-1zM432 241h1v1h-1zM442 241h1v1h-1zM410 242h1v1h-1zM423 242h2v1h-2zM434 242h1v1h-1zM438 242h1v1h-1zM414 243h1v1h-1zM419 243h1v1h-1zM424 243h1v1h-1zM438 243h1v1h-1zM414 244h1v1h-1zM419 244h1v1h-1zM423 244h1v1h-1zM435 244h1v1h-1zM411 245h1v1h-1zM417 245h2v1h-2zM421 245h1v1h-1zM428 245h1v1h-1zM435 245h1v1h-1zM414 246h1v1h-1zM421 246h3v1h-3zM425 246h1v1h-1zM427 246h2v1h-2zM408 247h1v1h-1zM419 247h1v1h-1zM422 247h1v1h-1zM429 247h2v1h-2zM418 248h1v1h-1zM420 248h1v1h-1zM426 248h2v1h-2zM430 248h2v1h-2zM417 249h1v1h-1zM424 249h1v1h-1zM427 249h2v1h-2zM403 250h1v1h-1zM424 250h2v1h-2zM427 250h1v1h-1zM438 250h1v1h-1zM418 251h1v1h-1zM421 251h1v1h-1zM425 251h1v1h-1zM428 251h2v1h-2zM433 251h1v1h-1zM439 251h1v1h-1zM418 252h1v1h-1zM424 252h2v1h-2zM429 252h1v1h-1zM412 253h1v1h-1zM416 253h1v1h-1zM418 253h1v1h-1zM421 253h1v1h-1zM249 254h1v1h-1zM406 254h1v1h-1zM416 254h1v1h-1zM422 254h1v1h-1zM430 254h1v1h-1zM432 254h1v1h-1zM434 254h1v1h-1zM235 255h1v1h-1zM238 255h1v1h-1zM247 255h1v1h-1zM435 255h1v1h-1zM240 256h3v1h-3zM245 256h1v1h-1zM247 256h1v1h-1zM412 256h1v1h-1zM414 256h1v1h-1zM416 256h1v1h-1zM419 256h2v1h-2zM422 256h1v1h-1zM427 256h1v1h-1zM238 257h2v1h-2zM243 257h1v1h-1zM246 257h2v1h-2zM426 257h1v1h-1zM238 258h1v1h-1zM240 258h1v1h-1zM246 258h1v1h-1zM418 258h1v1h-1zM236 259h2v1h-2zM239 259h2v1h-2zM243 259h4v1h-4zM461 259h1v1h-1zM235 260h1v1h-1zM237 260h5v1h-5zM243 260h1v1h-1zM248 260h1v1h-1zM251 260h1v1h-1zM457 260h3v1h-3zM461 260h2v1h-2zM464 260h1v1h-1zM234 261h1v1h-1zM236 261h1v1h-1zM240 261h1v1h-1zM245 261h1v1h-1zM247 261h2v1h-2zM250 261h1v1h-1zM458 261h1v1h-1zM463 261h2v1h-2zM466 261h1v1h-1zM470 261h1v1h-1zM236 262h2v1h-2zM239 262h1v1h-1zM241 262h1v1h-1zM247 262h2v1h-2zM253 262h1v1h-1zM456 262h1v1h-1zM460 262h1v1h-1zM465 262h1v1h-1zM467 262h1v1h-1zM471 262h1v1h-1zM482 262h1v1h-1zM233 263h1v1h-1zM235 263h2v1h-2zM238 263h1v1h-1zM243 263h1v1h-1zM245 263h1v1h-1zM250 263h2v1h-2zM253 263h1v1h-1zM454 263h1v1h-1zM459 263h1v1h-1zM463 263h2v1h-2zM232 264h2v1h-2zM235 264h1v1h-1zM238 264h1v1h-1zM242 264h2v1h-2zM245 264h1v1h-1zM248 264h4v1h-4zM456 264h1v1h-1zM458 264h1v1h-1zM463 264h4v1h-4zM232 265h1v1h-1zM235 265h2v1h-2zM238 265h4v1h-4zM244 265h3v1h-3zM248 265h1v1h-1zM250 265h1v1h-1zM252 265h2v1h-2zM456 265h1v1h-1zM460 265h3v1h-3zM464 265h1v1h-1zM466 265h1v1h-1zM471 265h1v1h-1zM234 266h1v1h-1zM236 266h1v1h-1zM239 266h2v1h-2zM242 266h1v1h-1zM244 266h3v1h-3zM250 266h2v1h-2zM254 266h1v1h-1zM256 266h1v1h-1zM453 266h1v1h-1zM455 266h1v1h-1zM458 266h1v1h-1zM460 266h1v1h-1zM463 266h1v1h-1zM466 266h1v1h-1zM237 267h1v1h-1zM240 267h1v1h-1zM244 267h4v1h-4zM252 267h2v1h-2zM457 267h2v1h-2zM461 267h1v1h-1zM464 267h2v1h-2zM467 267h3v1h-3zM474 267h1v1h-1zM236 268h1v1h-1zM238 268h2v1h-2zM242 268h1v1h-1zM246 268h4v1h-4zM251 268h1v1h-1zM444 268h1v1h-1zM460 268h2v1h-2zM465 268h1v1h-1zM238 269h1v1h-1zM241 269h5v1h-5zM249 269h3v1h-3zM253 269h1v1h-1zM456 269h1v1h-1zM458 269h1v1h-1zM461 269h2v1h-2zM464 269h2v1h-2zM467 269h1v1h-1zM236 270h1v1h-1zM240 270h1v1h-1zM251 270h2v1h-2zM459 270h3v1h-3zM465 270h1v1h-1zM468 270h1v1h-1zM235 271h1v1h-1zM239 271h4v1h-4zM244 271h1v1h-1zM246 271h2v1h-2zM456 271h1v1h-1zM458 271h2v1h-2zM464 271h1v1h-1zM239 272h1v1h-1zM247 272h2v1h-2zM462 272h1v1h-1zM239 273h1v1h-1zM245 273h2v1h-2zM248 273h1v1h-1zM239 274h2v1h-2zM242 274h3v1h-3zM464 274h1v1h-1zM467 274h1v1h-1zM240 275h1v1h-1zM244 275h1v1h-1zM248 275h1v1h-1zM241 276h1v1h-1zM247 276h1v1h-1zM485 276h1v1h-1zM241 277h1v1h-1zM456 277h1v1h-1zM466 277h1v1h-1zM480 280h1v1h-1zM467 281h1v1h-1zM490 282h1v1h-1z"/><path fill="#333" d="M430 259h1v1h-1zM426 260h1v1h-1zM430 260h1v1h-1zM421 261h1v1h-1zM424 261h1v1h-1zM423 262h1v1h-1zM423 263h1v1h-1zM426 263h1v1h-1zM429 263h1v1h-1zM423 264h1v1h-1zM430 264h1v1h-1zM433 264h1v1h-1zM425 265h2v1h-2zM429 265h1v1h-1zM435 265h1v1h-1zM424 266h1v1h-1zM427 266h1v1h-1zM426 267h1v1h-1zM425 268h2v1h-2zM431 268h1v1h-1zM419 269h1v1h-1zM421 269h1v1h-1zM424 269h4v1h-4zM429 269h1v1h-1zM432 269h2v1h-2zM421 270h5v1h-5zM428 270h1v1h-1zM426 271h2v1h-2zM433 271h1v1h-1zM426 272h2v1h-2zM432 272h1v1h-1zM418 273h1v1h-1zM423 273h2v1h-2zM430 273h1v1h-1zM426 274h1v1h-1zM431 274h1v1h-1zM422 275h2v1h-2zM431 276h1v1h-1zM424 278h1v1h-1zM422 279h1v1h-1z"/></g><g filter="url(#bt)"><text x="3.4" y="12.3" font-size="13.3" text-anchor="start" fill="#0a0a0a" font-weight="bold" stroke="#0a0a0a" stroke-width="0.45">A</text><text x="188.5" y="12.3" font-size="13.3" text-anchor="start" fill="#0a0a0a" font-weight="bold" stroke="#0a0a0a" stroke-width="0.45">B</text><text x="374.4" y="12.3" font-size="13.3" text-anchor="start" fill="#0a0a0a" font-weight="bold" stroke="#0a0a0a" stroke-width="0.45">C</text><text x="4" y="184.3" font-size="13.3" text-anchor="start" fill="#0a0a0a" font-weight="bold" stroke="#0a0a0a" stroke-width="0.45">D</text><text x="188.5" y="184.3" font-size="13.3" text-anchor="start" fill="#0a0a0a" font-weight="bold" stroke="#0a0a0a" stroke-width="0.45">E</text><text x="374.2" y="184.5" font-size="13.3" text-anchor="start" fill="#0a0a0a" font-weight="bold" stroke="#0a0a0a" stroke-width="0.45">F</text><rect x="49.3" y="10.5" width="114" height="107.9" fill="none" stroke="#141414" stroke-width="1"/><line x1="53.07" y1="119.3" x2="53.07" y2="122.5" stroke="#141414" stroke-width="0.9"/><line x1="45.4" y1="114.29" x2="49.3" y2="114.29" stroke="#141414" stroke-width="0.9"/><line x1="57.44" y1="119.3" x2="57.44" y2="122.5" stroke="#141414" stroke-width="0.9"/><line x1="45.4" y1="110.18" x2="49.3" y2="110.18" stroke="#141414" stroke-width="0.9"/><line x1="61.81" y1="119.3" x2="61.81" y2="122.5" stroke="#141414" stroke-width="0.9"/><line x1="45.4" y1="106.07" x2="49.3" y2="106.07" stroke="#141414" stroke-width="0.9"/><line x1="66.18" y1="119.3" x2="66.18" y2="122.5" stroke="#141414" stroke-width="0.9"/><line x1="45.4" y1="101.96" x2="49.3" y2="101.96" stroke="#141414" stroke-width="0.9"/><line x1="70.55" y1="119.3" x2="70.55" y2="125.6" stroke="#141414" stroke-width="1"/><line x1="42.4" y1="97.85" x2="49.3" y2="97.85" stroke="#141414" stroke-width="1"/><line x1="74.92" y1="119.3" x2="74.92" y2="122.5" stroke="#141414" stroke-width="0.9"/><line x1="45.4" y1="93.74" x2="49.3" y2="93.74" stroke="#141414" stroke-width="0.9"/><line x1="79.29" y1="119.3" x2="79.29" y2="122.5" stroke="#141414" stroke-width="0.9"/><line x1="45.4" y1="89.63" x2="49.3" y2="89.63" stroke="#141414" stroke-width="0.9"/><line x1="83.66" y1="119.3" x2="83.66" y2="122.5" stroke="#141414" stroke-width="0.9"/><line x1="45.4" y1="85.52" x2="49.3" y2="85.52" stroke="#141414" stroke-width="0.9"/><line x1="88.03" y1="119.3" x2="88.03" y2="122.5" stroke="#141414" stroke-width="0.9"/><line x1="45.4" y1="81.41" x2="49.3" y2="81.41" stroke="#141414" stroke-width="0.9"/><line x1="92.4" y1="119.3" x2="92.4" y2="125.6" stroke="#141414" stroke-width="1"/><line x1="42.4" y1="77.3" x2="49.3" y2="77.3" stroke="#141414" stroke-width="1"/><line x1="96.77" y1="119.3" x2="96.77" y2="122.5" stroke="#141414" stroke-width="0.9"/><line x1="45.4" y1="73.19" x2="49.3" y2="73.19" stroke="#141414" stroke-width="0.9"/><line x1="101.14" y1="119.3" x2="101.14" y2="122.5" stroke="#141414" stroke-width="0.9"/><line x1="45.4" y1="69.08" x2="49.3" y2="69.08" stroke="#141414" stroke-width="0.9"/><line x1="105.51" y1="119.3" x2="105.51" y2="122.5" stroke="#141414" stroke-width="0.9"/><line x1="45.4" y1="64.97" x2="49.3" y2="64.97" stroke="#141414" stroke-width="0.9"/><line x1="109.88" y1="119.3" x2="109.88" y2="122.5" stroke="#141414" stroke-width="0.9"/><line x1="45.4" y1="60.86" x2="49.3" y2="60.86" stroke="#141414" stroke-width="0.9"/><line x1="114.25" y1="119.3" x2="114.25" y2="125.6" stroke="#141414" stroke-width="1"/><line x1="42.4" y1="56.75" x2="49.3" y2="56.75" stroke="#141414" stroke-width="1"/><line x1="118.62" y1="119.3" x2="118.62" y2="122.5" stroke="#141414" stroke-width="0.9"/><line x1="45.4" y1="52.64" x2="49.3" y2="52.64" stroke="#141414" stroke-width="0.9"/><line x1="122.99" y1="119.3" x2="122.99" y2="122.5" stroke="#141414" stroke-width="0.9"/><line x1="45.4" y1="48.53" x2="49.3" y2="48.53" stroke="#141414" stroke-width="0.9"/><line x1="127.36" y1="119.3" x2="127.36" y2="122.5" stroke="#141414" stroke-width="0.9"/><line x1="45.4" y1="44.42" x2="49.3" y2="44.42" stroke="#141414" stroke-width="0.9"/><line x1="131.73" y1="119.3" x2="131.73" y2="122.5" stroke="#141414" stroke-width="0.9"/><line x1="45.4" y1="40.31" x2="49.3" y2="40.31" stroke="#141414" stroke-width="0.9"/><line x1="136.1" y1="119.3" x2="136.1" y2="125.6" stroke="#141414" stroke-width="1"/><line x1="42.4" y1="36.2" x2="49.3" y2="36.2" stroke="#141414" stroke-width="1"/><line x1="140.47" y1="119.3" x2="140.47" y2="122.5" stroke="#141414" stroke-width="0.9"/><line x1="45.4" y1="32.09" x2="49.3" y2="32.09" stroke="#141414" stroke-width="0.9"/><line x1="144.84" y1="119.3" x2="144.84" y2="122.5" stroke="#141414" stroke-width="0.9"/><line x1="45.4" y1="27.98" x2="49.3" y2="27.98" stroke="#141414" stroke-width="0.9"/><line x1="149.21" y1="119.3" x2="149.21" y2="122.5" stroke="#141414" stroke-width="0.9"/><line x1="45.4" y1="23.87" x2="49.3" y2="23.87" stroke="#141414" stroke-width="0.9"/><line x1="153.58" y1="119.3" x2="153.58" y2="122.5" stroke="#141414" stroke-width="0.9"/><line x1="45.4" y1="19.76" x2="49.3" y2="19.76" stroke="#141414" stroke-width="0.9"/><line x1="157.95" y1="119.3" x2="157.95" y2="125.6" stroke="#141414" stroke-width="1"/><line x1="42.4" y1="15.65" x2="49.3" y2="15.65" stroke="#141414" stroke-width="1"/><line x1="162.32" y1="119.3" x2="162.32" y2="122.5" stroke="#141414" stroke-width="0.9"/><line x1="45.4" y1="11.54" x2="49.3" y2="11.54" stroke="#141414" stroke-width="0.9"/><text x="70.55" y="133.6" font-size="7.2" text-anchor="middle" fill="#141414" stroke="#141414" stroke-width="0.25">50</text><text x="0" y="0" transform="translate(42.9,97.85) rotate(-90)" font-size="7.2" text-anchor="middle" fill="#141414" stroke="#141414" stroke-width="0.25">50</text><text x="92.4" y="133.6" font-size="7.2" text-anchor="middle" fill="#141414" stroke="#141414" stroke-width="0.25">100</text><text x="0" y="0" transform="translate(42.9,77.3) rotate(-90)" font-size="7.2" text-anchor="middle" fill="#141414" stroke="#141414" stroke-width="0.25">100</text><text x="114.25" y="133.6" font-size="7.2" text-anchor="middle" fill="#141414" stroke="#141414" stroke-width="0.25">150</text><text x="0" y="0" transform="translate(42.9,56.75) rotate(-90)" font-size="7.2" text-anchor="middle" fill="#141414" stroke="#141414" stroke-width="0.25">150</text><text x="136.1" y="133.6" font-size="7.2" text-anchor="middle" fill="#141414" stroke="#141414" stroke-width="0.25">200</text><text x="0" y="0" transform="translate(42.9,36.2) rotate(-90)" font-size="7.2" text-anchor="middle" fill="#141414" stroke="#141414" stroke-width="0.25">200</text><text x="157.95" y="133.6" font-size="7.2" text-anchor="middle" fill="#141414" stroke="#141414" stroke-width="0.25">250</text><text x="0" y="0" transform="translate(42.9,15.65) rotate(-90)" font-size="7.2" text-anchor="middle" fill="#141414" stroke="#141414" stroke-width="0.25">250</text><text x="105.5" y="143.4" font-size="7.1" text-anchor="middle" fill="#141414" stroke="#141414" stroke-width="0.25">FSC-A</text><text x="135" y="143.4" font-size="7.1" text-anchor="start" fill="#141414" stroke="#141414" stroke-width="0.25">(x 1,000)</text><text x="0" y="0" transform="translate(33.9,63.7) rotate(-90)" font-size="7.1" text-anchor="middle" fill="#141414" stroke="#141414" stroke-width="0.25">SSC-A</text><text x="0" y="0" transform="translate(31.4,24.4) rotate(-90)" font-size="7.1" text-anchor="middle" fill="#141414" stroke="#141414" stroke-width="0.25">(x 1,000)</text><polygon points="70.3,114.8 70.3,110 81.5,101 98.6,99.9 101.6,104.2 90,114.8" fill="none" stroke="#141414" stroke-width="1.35" stroke-linejoin="miter"/><text x="87.6" y="93.3" font-size="8.65" text-anchor="start" fill="#111" stroke="#111" stroke-width="0.3">Lymphocytes</text><rect x="225.3" y="10.5" width="113.7" height="107.9" fill="none" stroke="#141414" stroke-width="1"/><line x1="221.4" y1="114.29" x2="225.3" y2="114.29" stroke="#141414" stroke-width="0.9"/><line x1="221.4" y1="110.18" x2="225.3" y2="110.18" stroke="#141414" stroke-width="0.9"/><line x1="221.4" y1="106.07" x2="225.3" y2="106.07" stroke="#141414" stroke-width="0.9"/><line x1="221.4" y1="101.96" x2="225.3" y2="101.96" stroke="#141414" stroke-width="0.9"/><line x1="218.4" y1="97.85" x2="225.3" y2="97.85" stroke="#141414" stroke-width="1"/><line x1="221.4" y1="93.74" x2="225.3" y2="93.74" stroke="#141414" stroke-width="0.9"/><line x1="221.4" y1="89.63" x2="225.3" y2="89.63" stroke="#141414" stroke-width="0.9"/><line x1="221.4" y1="85.52" x2="225.3" y2="85.52" stroke="#141414" stroke-width="0.9"/><line x1="221.4" y1="81.41" x2="225.3" y2="81.41" stroke="#141414" stroke-width="0.9"/><line x1="218.4" y1="77.3" x2="225.3" y2="77.3" stroke="#141414" stroke-width="1"/><line x1="221.4" y1="73.19" x2="225.3" y2="73.19" stroke="#141414" stroke-width="0.9"/><line x1="221.4" y1="69.08" x2="225.3" y2="69.08" stroke="#141414" stroke-width="0.9"/><line x1="221.4" y1="64.97" x2="225.3" y2="64.97" stroke="#141414" stroke-width="0.9"/><line x1="221.4" y1="60.86" x2="225.3" y2="60.86" stroke="#141414" stroke-width="0.9"/><line x1="218.4" y1="56.75" x2="225.3" y2="56.75" stroke="#141414" stroke-width="1"/><line x1="221.4" y1="52.64" x2="225.3" y2="52.64" stroke="#141414" stroke-width="0.9"/><line x1="221.4" y1="48.53" x2="225.3" y2="48.53" stroke="#141414" stroke-width="0.9"/><line x1="221.4" y1="44.42" x2="225.3" y2="44.42" stroke="#141414" stroke-width="0.9"/><line x1="221.4" y1="40.31" x2="225.3" y2="40.31" stroke="#141414" stroke-width="0.9"/><line x1="218.4" y1="36.2" x2="225.3" y2="36.2" stroke="#141414" stroke-width="1"/><line x1="221.4" y1="32.09" x2="225.3" y2="32.09" stroke="#141414" stroke-width="0.9"/><line x1="221.4" y1="27.98" x2="225.3" y2="27.98" stroke="#141414" stroke-width="0.9"/><line x1="221.4" y1="23.87" x2="225.3" y2="23.87" stroke="#141414" stroke-width="0.9"/><line x1="221.4" y1="19.76" x2="225.3" y2="19.76" stroke="#141414" stroke-width="0.9"/><line x1="218.4" y1="15.65" x2="225.3" y2="15.65" stroke="#141414" stroke-width="1"/><line x1="221.4" y1="11.54" x2="225.3" y2="11.54" stroke="#141414" stroke-width="0.9"/><text x="0" y="0" transform="translate(218.9,97.85) rotate(-90)" font-size="7.2" text-anchor="middle" fill="#141414" stroke="#141414" stroke-width="0.25">50</text><text x="0" y="0" transform="translate(218.9,77.3) rotate(-90)" font-size="7.2" text-anchor="middle" fill="#141414" stroke="#141414" stroke-width="0.25">100</text><text x="0" y="0" transform="translate(218.9,56.75) rotate(-90)" font-size="7.2" text-anchor="middle" fill="#141414" stroke="#141414" stroke-width="0.25">150</text><text x="0" y="0" transform="translate(218.9,36.2) rotate(-90)" font-size="7.2" text-anchor="middle" fill="#141414" stroke="#141414" stroke-width="0.25">200</text><text x="0" y="0" transform="translate(218.9,15.65) rotate(-90)" font-size="7.2" text-anchor="middle" fill="#141414" stroke="#141414" stroke-width="0.25">250</text><text x="0" y="0" transform="translate(209.8,63.5) rotate(-90)" font-size="7.1" text-anchor="middle" fill="#141414" stroke="#141414" stroke-width="0.25">SSC-A</text><text x="0" y="0" transform="translate(207.4,24.4) rotate(-90)" font-size="7.1" text-anchor="middle" fill="#141414" stroke="#141414" stroke-width="0.25">(x 1,000)</text><line x1="243.32" y1="119.1" x2="243.32" y2="124.9" stroke="#141414" stroke-width="0.9"/><line x1="239.66" y1="119.1" x2="239.66" y2="121.9" stroke="#141414" stroke-width="0.9"/><line x1="236.35" y1="119.1" x2="236.35" y2="121.9" stroke="#141414" stroke-width="0.9"/><line x1="233.4" y1="119.1" x2="233.4" y2="121.9" stroke="#141414" stroke-width="0.9"/><line x1="230.79" y1="119.1" x2="230.79" y2="121.9" stroke="#141414" stroke-width="0.9"/><line x1="228.49" y1="119.1" x2="228.49" y2="121.9" stroke="#141414" stroke-width="0.9"/><line x1="226.44" y1="119.1" x2="226.44" y2="121.9" stroke="#141414" stroke-width="0.9"/><line x1="247.2" y1="119.1" x2="247.2" y2="125.1" stroke="#141414" stroke-width="1.6"/><line x1="251.08" y1="119.1" x2="251.08" y2="124.9" stroke="#141414" stroke-width="0.9"/><line x1="254.74" y1="119.1" x2="254.74" y2="121.9" stroke="#141414" stroke-width="0.9"/><line x1="258.05" y1="119.1" x2="258.05" y2="121.9" stroke="#141414" stroke-width="0.9"/><line x1="261" y1="119.1" x2="261" y2="121.9" stroke="#141414" stroke-width="0.9"/><line x1="263.61" y1="119.1" x2="263.61" y2="121.9" stroke="#141414" stroke-width="0.9"/><line x1="265.91" y1="119.1" x2="265.91" y2="121.9" stroke="#141414" stroke-width="0.9"/><line x1="267.96" y1="119.1" x2="267.96" y2="121.9" stroke="#141414" stroke-width="0.9"/><line x1="269.81" y1="119.1" x2="269.81" y2="121.9" stroke="#141414" stroke-width="0.9"/><line x1="271.48" y1="119.1" x2="271.48" y2="121.9" stroke="#141414" stroke-width="0.9"/><line x1="273" y1="119.1" x2="273" y2="125.1" stroke="#141414" stroke-width="1"/><line x1="281.91" y1="119.1" x2="281.91" y2="121.9" stroke="#141414" stroke-width="0.9"/><line x1="287.12" y1="119.1" x2="287.12" y2="121.9" stroke="#141414" stroke-width="0.9"/><line x1="290.82" y1="119.1" x2="290.82" y2="121.9" stroke="#141414" stroke-width="0.9"/><line x1="293.69" y1="119.1" x2="293.69" y2="121.9" stroke="#141414" stroke-width="0.9"/><line x1="296.03" y1="119.1" x2="296.03" y2="121.9" stroke="#141414" stroke-width="0.9"/><line x1="298.01" y1="119.1" x2="298.01" y2="121.9" stroke="#141414" stroke-width="0.9"/><line x1="299.73" y1="119.1" x2="299.73" y2="121.9" stroke="#141414" stroke-width="0.9"/><line x1="301.24" y1="119.1" x2="301.24" y2="121.9" stroke="#141414" stroke-width="0.9"/><line x1="302.6" y1="119.1" x2="302.6" y2="125.1" stroke="#141414" stroke-width="1"/><line x1="310.42" y1="119.1" x2="310.42" y2="121.9" stroke="#141414" stroke-width="0.9"/><line x1="315" y1="119.1" x2="315" y2="121.9" stroke="#141414" stroke-width="0.9"/><line x1="318.25" y1="119.1" x2="318.25" y2="121.9" stroke="#141414" stroke-width="0.9"/><line x1="320.77" y1="119.1" x2="320.77" y2="121.9" stroke="#141414" stroke-width="0.9"/><line x1="322.83" y1="119.1" x2="322.83" y2="121.9" stroke="#141414" stroke-width="0.9"/><line x1="324.57" y1="119.1" x2="324.57" y2="121.9" stroke="#141414" stroke-width="0.9"/><line x1="326.08" y1="119.1" x2="326.08" y2="121.9" stroke="#141414" stroke-width="0.9"/><line x1="327.41" y1="119.1" x2="327.41" y2="121.9" stroke="#141414" stroke-width="0.9"/><line x1="328.6" y1="119.1" x2="328.6" y2="125.1" stroke="#141414" stroke-width="1"/><line x1="336.42" y1="119.1" x2="336.42" y2="121.9" stroke="#141414" stroke-width="0.9"/><line x1="225.3" y1="118.4" x2="225.3" y2="125.4" stroke="#141414" stroke-width="1.2"/><text x="247.2" y="134.2" font-size="7" text-anchor="middle" fill="#141414" stroke="#141414" stroke-width="0.25">0</text><text x="225.1" y="138.9" font-size="7" text-anchor="middle" fill="#141414" stroke="#141414" stroke-width="0.25">-762</text><text x="272.6" y="134.2" font-size="7" text-anchor="middle" fill="#141414" stroke="#141414" stroke-width="0.25">10<tspan font-size="6.2" dy="-4.6">3</tspan></text><text x="302.2" y="134.2" font-size="7" text-anchor="middle" fill="#141414" stroke="#141414" stroke-width="0.25">10<tspan font-size="6.2" dy="-4.6">4</tspan></text><text x="328.2" y="134.2" font-size="7" text-anchor="middle" fill="#141414" stroke="#141414" stroke-width="0.25">10<tspan font-size="6.2" dy="-4.6">5</tspan></text><text x="257.6" y="142.1" font-size="7.1" text-anchor="start" fill="#141414" stroke="#141414" stroke-width="0.25">CD19 PerCP-A</text><polygon points="271,104 285.5,95.3 293,95.1 305.2,101.8 305.4,112 285.6,117.5 270.5,111" fill="none" stroke="#141414" stroke-width="1.3" stroke-linejoin="miter"/><text x="285.3" y="86.8" font-size="8.3" text-anchor="start" fill="#111" stroke="#111" stroke-width="0.3">CD19+</text><rect x="403" y="10.4" width="113.8" height="108" fill="none" stroke="#141414" stroke-width="1"/><line x1="421.02" y1="119.1" x2="421.02" y2="124.9" stroke="#141414" stroke-width="0.9"/><line x1="417.36" y1="119.1" x2="417.36" y2="121.9" stroke="#141414" stroke-width="0.9"/><line x1="414.05" y1="119.1" x2="414.05" y2="121.9" stroke="#141414" stroke-width="0.9"/><line x1="411.1" y1="119.1" x2="411.1" y2="121.9" stroke="#141414" stroke-width="0.9"/><line x1="408.49" y1="119.1" x2="408.49" y2="121.9" stroke="#141414" stroke-width="0.9"/><line x1="406.19" y1="119.1" x2="406.19" y2="121.9" stroke="#141414" stroke-width="0.9"/><line x1="404.14" y1="119.1" x2="404.14" y2="121.9" stroke="#141414" stroke-width="0.9"/><line x1="424.9" y1="119.1" x2="424.9" y2="125.1" stroke="#141414" stroke-width="1.6"/><line x1="428.78" y1="119.1" x2="428.78" y2="124.9" stroke="#141414" stroke-width="0.9"/><line x1="432.44" y1="119.1" x2="432.44" y2="121.9" stroke="#141414" stroke-width="0.9"/><line x1="435.75" y1="119.1" x2="435.75" y2="121.9" stroke="#141414" stroke-width="0.9"/><line x1="438.7" y1="119.1" x2="438.7" y2="121.9" stroke="#141414" stroke-width="0.9"/><line x1="441.31" y1="119.1" x2="441.31" y2="121.9" stroke="#141414" stroke-width="0.9"/><line x1="443.61" y1="119.1" x2="443.61" y2="121.9" stroke="#141414" stroke-width="0.9"/><line x1="445.66" y1="119.1" x2="445.66" y2="121.9" stroke="#141414" stroke-width="0.9"/><line x1="447.51" y1="119.1" x2="447.51" y2="121.9" stroke="#141414" stroke-width="0.9"/><line x1="449.18" y1="119.1" x2="449.18" y2="121.9" stroke="#141414" stroke-width="0.9"/><line x1="450.7" y1="119.1" x2="450.7" y2="125.1" stroke="#141414" stroke-width="1"/><line x1="459.61" y1="119.1" x2="459.61" y2="121.9" stroke="#141414" stroke-width="0.9"/><line x1="464.82" y1="119.1" x2="464.82" y2="121.9" stroke="#141414" stroke-width="0.9"/><line x1="468.52" y1="119.1" x2="468.52" y2="121.9" stroke="#141414" stroke-width="0.9"/><line x1="471.39" y1="119.1" x2="471.39" y2="121.9" stroke="#141414" stroke-width="0.9"/><line x1="473.73" y1="119.1" x2="473.73" y2="121.9" stroke="#141414" stroke-width="0.9"/><line x1="475.71" y1="119.1" x2="475.71" y2="121.9" stroke="#141414" stroke-width="0.9"/><line x1="477.43" y1="119.1" x2="477.43" y2="121.9" stroke="#141414" stroke-width="0.9"/><line x1="478.94" y1="119.1" x2="478.94" y2="121.9" stroke="#141414" stroke-width="0.9"/><line x1="480.3" y1="119.1" x2="480.3" y2="125.1" stroke="#141414" stroke-width="1"/><line x1="488.12" y1="119.1" x2="488.12" y2="121.9" stroke="#141414" stroke-width="0.9"/><line x1="492.7" y1="119.1" x2="492.7" y2="121.9" stroke="#141414" stroke-width="0.9"/><line x1="495.95" y1="119.1" x2="495.95" y2="121.9" stroke="#141414" stroke-width="0.9"/><line x1="498.47" y1="119.1" x2="498.47" y2="121.9" stroke="#141414" stroke-width="0.9"/><line x1="500.53" y1="119.1" x2="500.53" y2="121.9" stroke="#141414" stroke-width="0.9"/><line x1="502.27" y1="119.1" x2="502.27" y2="121.9" stroke="#141414" stroke-width="0.9"/><line x1="503.78" y1="119.1" x2="503.78" y2="121.9" stroke="#141414" stroke-width="0.9"/><line x1="505.11" y1="119.1" x2="505.11" y2="121.9" stroke="#141414" stroke-width="0.9"/><line x1="506.3" y1="119.1" x2="506.3" y2="125.1" stroke="#141414" stroke-width="1"/><line x1="514.12" y1="119.1" x2="514.12" y2="121.9" stroke="#141414" stroke-width="0.9"/><line x1="403" y1="118.4" x2="403" y2="125.4" stroke="#141414" stroke-width="1.2"/><text x="424.9" y="134.2" font-size="7" text-anchor="middle" fill="#141414" stroke="#141414" stroke-width="0.25">0</text><text x="402.8" y="138.9" font-size="7" text-anchor="middle" fill="#141414" stroke="#141414" stroke-width="0.25">-762</text><text x="450.3" y="134.2" font-size="7" text-anchor="middle" fill="#141414" stroke="#141414" stroke-width="0.25">10<tspan font-size="6.2" dy="-4.6">3</tspan></text><text x="479.9" y="134.2" font-size="7" text-anchor="middle" fill="#141414" stroke="#141414" stroke-width="0.25">10<tspan font-size="6.2" dy="-4.6">4</tspan></text><text x="505.9" y="134.2" font-size="7" text-anchor="middle" fill="#141414" stroke="#141414" stroke-width="0.25">10<tspan font-size="6.2" dy="-4.6">5</tspan></text><text x="435.3" y="142.1" font-size="7.1" text-anchor="start" fill="#141414" stroke="#141414" stroke-width="0.25">CD19 PerCP-A</text><line x1="396.8" y1="114.77" x2="403" y2="114.77" stroke="#141414" stroke-width="0.9"/><line x1="395.5" y1="104.4" x2="403" y2="104.4" stroke="#141414" stroke-width="1.7"/><line x1="396.8" y1="95.14" x2="403" y2="95.14" stroke="#141414" stroke-width="0.9"/><line x1="399.8" y1="88.51" x2="403" y2="88.51" stroke="#141414" stroke-width="0.9"/><line x1="399.8" y1="83.84" x2="403" y2="83.84" stroke="#141414" stroke-width="0.9"/><line x1="399.8" y1="80.32" x2="403" y2="80.32" stroke="#141414" stroke-width="0.9"/><line x1="399.8" y1="77.52" x2="403" y2="77.52" stroke="#141414" stroke-width="0.9"/><line x1="399.8" y1="75.2" x2="403" y2="75.2" stroke="#141414" stroke-width="0.9"/><line x1="399.8" y1="73.23" x2="403" y2="73.23" stroke="#141414" stroke-width="0.9"/><line x1="399.8" y1="71.51" x2="403" y2="71.51" stroke="#141414" stroke-width="0.9"/><line x1="399.8" y1="69.98" x2="403" y2="69.98" stroke="#141414" stroke-width="0.9"/><line x1="396.5" y1="68.62" x2="403" y2="68.62" stroke="#141414" stroke-width="1"/><line x1="399.8" y1="61.4" x2="403" y2="61.4" stroke="#141414" stroke-width="0.9"/><line x1="399.8" y1="57.17" x2="403" y2="57.17" stroke="#141414" stroke-width="0.9"/><line x1="399.8" y1="54.17" x2="403" y2="54.17" stroke="#141414" stroke-width="0.9"/><line x1="399.8" y1="51.84" x2="403" y2="51.84" stroke="#141414" stroke-width="0.9"/><line x1="399.8" y1="49.94" x2="403" y2="49.94" stroke="#141414" stroke-width="0.9"/><line x1="399.8" y1="48.34" x2="403" y2="48.34" stroke="#141414" stroke-width="0.9"/><line x1="399.8" y1="46.95" x2="403" y2="46.95" stroke="#141414" stroke-width="0.9"/><line x1="399.8" y1="45.72" x2="403" y2="45.72" stroke="#141414" stroke-width="0.9"/><line x1="396.5" y1="44.62" x2="403" y2="44.62" stroke="#141414" stroke-width="1"/><line x1="399.8" y1="37.4" x2="403" y2="37.4" stroke="#141414" stroke-width="0.9"/><line x1="399.8" y1="33.17" x2="403" y2="33.17" stroke="#141414" stroke-width="0.9"/><line x1="399.8" y1="30.17" x2="403" y2="30.17" stroke="#141414" stroke-width="0.9"/><line x1="399.8" y1="27.84" x2="403" y2="27.84" stroke="#141414" stroke-width="0.9"/><line x1="399.8" y1="25.94" x2="403" y2="25.94" stroke="#141414" stroke-width="0.9"/><line x1="399.8" y1="24.34" x2="403" y2="24.34" stroke="#141414" stroke-width="0.9"/><line x1="399.8" y1="22.95" x2="403" y2="22.95" stroke="#141414" stroke-width="0.9"/><line x1="399.8" y1="21.72" x2="403" y2="21.72" stroke="#141414" stroke-width="0.9"/><line x1="396.5" y1="20.62" x2="403" y2="20.62" stroke="#141414" stroke-width="1"/><line x1="396" y1="118.4" x2="403" y2="118.4" stroke="#141414" stroke-width="1.1"/><text x="0" y="0" transform="translate(396.1,104.4) rotate(-90)" font-size="7" text-anchor="middle" fill="#141414" stroke="#141414" stroke-width="0.25">0</text><text x="0" y="0" transform="translate(396.1,67.82) rotate(-90)" font-size="6.6" text-anchor="middle" fill="#141414" stroke="#141414" stroke-width="0.25">10<tspan font-size="6.6" dy="-5">3</tspan></text><text x="0" y="0" transform="translate(396.1,43.82) rotate(-90)" font-size="6.6" text-anchor="middle" fill="#141414" stroke="#141414" stroke-width="0.25">10<tspan font-size="6.6" dy="-5">4</tspan></text><text x="0" y="0" transform="translate(396.1,19.82) rotate(-90)" font-size="6.6" text-anchor="middle" fill="#141414" stroke="#141414" stroke-width="0.25">10<tspan font-size="6.6" dy="-5">5</tspan></text><text x="0" y="0" transform="translate(396.1,94.34) rotate(-90)" font-size="6.6" text-anchor="middle" fill="#141414" stroke="#141414" stroke-width="0.25">10<tspan font-size="6.6" dy="-5">2</tspan></text><text x="0" y="0" transform="translate(389.2,117.9) rotate(-90)" font-size="7" text-anchor="middle" fill="#141414" stroke="#141414" stroke-width="0.25">-165</text><text x="0" y="0" transform="translate(384.6,62.3) rotate(-90)" font-size="7.1" text-anchor="middle" fill="#141414" stroke="#141414" stroke-width="0.25">CD2 FITC-A</text><rect x="405.1" y="23.7" width="108.4" height="41.6" fill="none" stroke="#141414" stroke-width="1.1"/><rect x="442.6" y="67.3" width="48.6" height="50.1" fill="none" stroke="#141414" stroke-width="1.1"/><text x="459.9" y="38.5" font-size="9" text-anchor="start" fill="#333" stroke="#333" stroke-width="0.25">CD2+</text><text x="459.9" y="49.5" font-size="9" text-anchor="start" fill="#333" stroke="#333" stroke-width="0.25">Exclusion</text><text x="459.9" y="59.9" font-size="9" text-anchor="start" fill="#333" stroke="#333" stroke-width="0.25">gate</text><text x="445.8" y="80.6" font-size="8.5" text-anchor="start" fill="#111" stroke="#111" stroke-width="0.3">CD2-CD19+</text><rect x="48.4" y="177.4" width="114" height="108" fill="none" stroke="#141414" stroke-width="1"/><line x1="66.42" y1="286.1" x2="66.42" y2="291.9" stroke="#141414" stroke-width="0.9"/><line x1="62.76" y1="286.1" x2="62.76" y2="288.9" stroke="#141414" stroke-width="0.9"/><line x1="59.45" y1="286.1" x2="59.45" y2="288.9" stroke="#141414" stroke-width="0.9"/><line x1="56.5" y1="286.1" x2="56.5" y2="288.9" stroke="#141414" stroke-width="0.9"/><line x1="53.89" y1="286.1" x2="53.89" y2="288.9" stroke="#141414" stroke-width="0.9"/><line x1="51.59" y1="286.1" x2="51.59" y2="288.9" stroke="#141414" stroke-width="0.9"/><line x1="49.54" y1="286.1" x2="49.54" y2="288.9" stroke="#141414" stroke-width="0.9"/><line x1="70.3" y1="286.1" x2="70.3" y2="292.1" stroke="#141414" stroke-width="1.6"/><line x1="74.18" y1="286.1" x2="74.18" y2="291.9" stroke="#141414" stroke-width="0.9"/><line x1="77.84" y1="286.1" x2="77.84" y2="288.9" stroke="#141414" stroke-width="0.9"/><line x1="81.15" y1="286.1" x2="81.15" y2="288.9" stroke="#141414" stroke-width="0.9"/><line x1="84.1" y1="286.1" x2="84.1" y2="288.9" stroke="#141414" stroke-width="0.9"/><line x1="86.71" y1="286.1" x2="86.71" y2="288.9" stroke="#141414" stroke-width="0.9"/><line x1="89.01" y1="286.1" x2="89.01" y2="288.9" stroke="#141414" stroke-width="0.9"/><line x1="91.06" y1="286.1" x2="91.06" y2="288.9" stroke="#141414" stroke-width="0.9"/><line x1="92.91" y1="286.1" x2="92.91" y2="288.9" stroke="#141414" stroke-width="0.9"/><line x1="94.58" y1="286.1" x2="94.58" y2="288.9" stroke="#141414" stroke-width="0.9"/><line x1="96.1" y1="286.1" x2="96.1" y2="292.1" stroke="#141414" stroke-width="1"/><line x1="105.01" y1="286.1" x2="105.01" y2="288.9" stroke="#141414" stroke-width="0.9"/><line x1="110.22" y1="286.1" x2="110.22" y2="288.9" stroke="#141414" stroke-width="0.9"/><line x1="113.92" y1="286.1" x2="113.92" y2="288.9" stroke="#141414" stroke-width="0.9"/><line x1="116.79" y1="286.1" x2="116.79" y2="288.9" stroke="#141414" stroke-width="0.9"/><line x1="119.13" y1="286.1" x2="119.13" y2="288.9" stroke="#141414" stroke-width="0.9"/><line x1="121.11" y1="286.1" x2="121.11" y2="288.9" stroke="#141414" stroke-width="0.9"/><line x1="122.83" y1="286.1" x2="122.83" y2="288.9" stroke="#141414" stroke-width="0.9"/><line x1="124.34" y1="286.1" x2="124.34" y2="288.9" stroke="#141414" stroke-width="0.9"/><line x1="125.7" y1="286.1" x2="125.7" y2="292.1" stroke="#141414" stroke-width="1"/><line x1="133.52" y1="286.1" x2="133.52" y2="288.9" stroke="#141414" stroke-width="0.9"/><line x1="138.1" y1="286.1" x2="138.1" y2="288.9" stroke="#141414" stroke-width="0.9"/><line x1="141.35" y1="286.1" x2="141.35" y2="288.9" stroke="#141414" stroke-width="0.9"/><line x1="143.87" y1="286.1" x2="143.87" y2="288.9" stroke="#141414" stroke-width="0.9"/><line x1="145.93" y1="286.1" x2="145.93" y2="288.9" stroke="#141414" stroke-width="0.9"/><line x1="147.67" y1="286.1" x2="147.67" y2="288.9" stroke="#141414" stroke-width="0.9"/><line x1="149.18" y1="286.1" x2="149.18" y2="288.9" stroke="#141414" stroke-width="0.9"/><line x1="150.51" y1="286.1" x2="150.51" y2="288.9" stroke="#141414" stroke-width="0.9"/><line x1="151.7" y1="286.1" x2="151.7" y2="292.1" stroke="#141414" stroke-width="1"/><line x1="159.52" y1="286.1" x2="159.52" y2="288.9" stroke="#141414" stroke-width="0.9"/><line x1="48.4" y1="285.4" x2="48.4" y2="292.4" stroke="#141414" stroke-width="1.2"/><text x="70.3" y="301.2" font-size="7" text-anchor="middle" fill="#141414" stroke="#141414" stroke-width="0.25">0</text><text x="48.2" y="305.9" font-size="7" text-anchor="middle" fill="#141414" stroke="#141414" stroke-width="0.25">-762</text><text x="95.7" y="301.2" font-size="7" text-anchor="middle" fill="#141414" stroke="#141414" stroke-width="0.25">10<tspan font-size="6.2" dy="-4.6">3</tspan></text><text x="125.3" y="301.2" font-size="7" text-anchor="middle" fill="#141414" stroke="#141414" stroke-width="0.25">10<tspan font-size="6.2" dy="-4.6">4</tspan></text><text x="151.3" y="301.2" font-size="7" text-anchor="middle" fill="#141414" stroke="#141414" stroke-width="0.25">10<tspan font-size="6.2" dy="-4.6">5</tspan></text><text x="80.7" y="309.1" font-size="7.1" text-anchor="start" fill="#141414" stroke="#141414" stroke-width="0.25">CD19 PerCP-A</text><line x1="42.2" y1="277.06" x2="48.4" y2="277.06" stroke="#141414" stroke-width="0.9"/><line x1="45.2" y1="283.26" x2="48.4" y2="283.26" stroke="#141414" stroke-width="0.9"/><line x1="40.9" y1="269.6" x2="48.4" y2="269.6" stroke="#141414" stroke-width="1.7"/><line x1="42.2" y1="262.94" x2="48.4" y2="262.94" stroke="#141414" stroke-width="0.9"/><line x1="45.2" y1="257.4" x2="48.4" y2="257.4" stroke="#141414" stroke-width="0.9"/><line x1="45.2" y1="253.06" x2="48.4" y2="253.06" stroke="#141414" stroke-width="0.9"/><line x1="45.2" y1="249.62" x2="48.4" y2="249.62" stroke="#141414" stroke-width="0.9"/><line x1="45.2" y1="246.8" x2="48.4" y2="246.8" stroke="#141414" stroke-width="0.9"/><line x1="45.2" y1="244.43" x2="48.4" y2="244.43" stroke="#141414" stroke-width="0.9"/><line x1="45.2" y1="242.39" x2="48.4" y2="242.39" stroke="#141414" stroke-width="0.9"/><line x1="45.2" y1="240.61" x2="48.4" y2="240.61" stroke="#141414" stroke-width="0.9"/><line x1="45.2" y1="239.02" x2="48.4" y2="239.02" stroke="#141414" stroke-width="0.9"/><line x1="41.9" y1="237.6" x2="48.4" y2="237.6" stroke="#141414" stroke-width="1"/><line x1="45.2" y1="229.8" x2="48.4" y2="229.8" stroke="#141414" stroke-width="0.9"/><line x1="45.2" y1="225.24" x2="48.4" y2="225.24" stroke="#141414" stroke-width="0.9"/><line x1="45.2" y1="222" x2="48.4" y2="222" stroke="#141414" stroke-width="0.9"/><line x1="45.2" y1="219.49" x2="48.4" y2="219.49" stroke="#141414" stroke-width="0.9"/><line x1="45.2" y1="217.44" x2="48.4" y2="217.44" stroke="#141414" stroke-width="0.9"/><line x1="45.2" y1="215.71" x2="48.4" y2="215.71" stroke="#141414" stroke-width="0.9"/><line x1="45.2" y1="214.21" x2="48.4" y2="214.21" stroke="#141414" stroke-width="0.9"/><line x1="45.2" y1="212.88" x2="48.4" y2="212.88" stroke="#141414" stroke-width="0.9"/><line x1="41.9" y1="211.7" x2="48.4" y2="211.7" stroke="#141414" stroke-width="1"/><line x1="45.2" y1="204.47" x2="48.4" y2="204.47" stroke="#141414" stroke-width="0.9"/><line x1="45.2" y1="200.24" x2="48.4" y2="200.24" stroke="#141414" stroke-width="0.9"/><line x1="45.2" y1="197.25" x2="48.4" y2="197.25" stroke="#141414" stroke-width="0.9"/><line x1="45.2" y1="194.92" x2="48.4" y2="194.92" stroke="#141414" stroke-width="0.9"/><line x1="45.2" y1="193.02" x2="48.4" y2="193.02" stroke="#141414" stroke-width="0.9"/><line x1="45.2" y1="191.41" x2="48.4" y2="191.41" stroke="#141414" stroke-width="0.9"/><line x1="45.2" y1="190.02" x2="48.4" y2="190.02" stroke="#141414" stroke-width="0.9"/><line x1="45.2" y1="188.79" x2="48.4" y2="188.79" stroke="#141414" stroke-width="0.9"/><line x1="41.9" y1="187.7" x2="48.4" y2="187.7" stroke="#141414" stroke-width="1"/><line x1="41.4" y1="285.4" x2="48.4" y2="285.4" stroke="#141414" stroke-width="1.1"/><text x="0" y="0" transform="translate(41.5,269.6) rotate(-90)" font-size="7" text-anchor="middle" fill="#141414" stroke="#141414" stroke-width="0.25">0</text><text x="0" y="0" transform="translate(41.5,236.8) rotate(-90)" font-size="6.6" text-anchor="middle" fill="#141414" stroke="#141414" stroke-width="0.25">10<tspan font-size="6.6" dy="-5">3</tspan></text><text x="0" y="0" transform="translate(41.5,210.9) rotate(-90)" font-size="6.6" text-anchor="middle" fill="#141414" stroke="#141414" stroke-width="0.25">10<tspan font-size="6.6" dy="-5">4</tspan></text><text x="0" y="0" transform="translate(41.5,186.9) rotate(-90)" font-size="6.6" text-anchor="middle" fill="#141414" stroke="#141414" stroke-width="0.25">10<tspan font-size="6.6" dy="-5">5</tspan></text><text x="0" y="0" transform="translate(34.6,284.9) rotate(-90)" font-size="7" text-anchor="middle" fill="#141414" stroke="#141414" stroke-width="0.25">-235</text><text x="0" y="0" transform="translate(29.3,229) rotate(-90)" font-size="7.1" text-anchor="middle" fill="#141414" stroke="#141414" stroke-width="0.25">CD5 PE-Cy7-A</text><line x1="86.4" y1="177.4" x2="86.4" y2="285.4" stroke="#141414" stroke-width="1"/><line x1="48.4" y1="253" x2="162.4" y2="253" stroke="#141414" stroke-width="1"/><text x="91.3" y="191.7" font-size="8.8" text-anchor="start" fill="#333" stroke="#333" stroke-width="0.25">CD2-5+19+ cells</text><rect x="224.2" y="177.4" width="114" height="108" fill="none" stroke="#141414" stroke-width="1"/><line x1="242.22" y1="286.1" x2="242.22" y2="291.9" stroke="#141414" stroke-width="0.9"/><line x1="238.56" y1="286.1" x2="238.56" y2="288.9" stroke="#141414" stroke-width="0.9"/><line x1="235.25" y1="286.1" x2="235.25" y2="288.9" stroke="#141414" stroke-width="0.9"/><line x1="232.3" y1="286.1" x2="232.3" y2="288.9" stroke="#141414" stroke-width="0.9"/><line x1="229.69" y1="286.1" x2="229.69" y2="288.9" stroke="#141414" stroke-width="0.9"/><line x1="227.39" y1="286.1" x2="227.39" y2="288.9" stroke="#141414" stroke-width="0.9"/><line x1="225.34" y1="286.1" x2="225.34" y2="288.9" stroke="#141414" stroke-width="0.9"/><line x1="246.1" y1="286.1" x2="246.1" y2="292.1" stroke="#141414" stroke-width="1.6"/><line x1="249.98" y1="286.1" x2="249.98" y2="291.9" stroke="#141414" stroke-width="0.9"/><line x1="253.64" y1="286.1" x2="253.64" y2="288.9" stroke="#141414" stroke-width="0.9"/><line x1="256.95" y1="286.1" x2="256.95" y2="288.9" stroke="#141414" stroke-width="0.9"/><line x1="259.9" y1="286.1" x2="259.9" y2="288.9" stroke="#141414" stroke-width="0.9"/><line x1="262.51" y1="286.1" x2="262.51" y2="288.9" stroke="#141414" stroke-width="0.9"/><line x1="264.81" y1="286.1" x2="264.81" y2="288.9" stroke="#141414" stroke-width="0.9"/><line x1="266.86" y1="286.1" x2="266.86" y2="288.9" stroke="#141414" stroke-width="0.9"/><line x1="268.71" y1="286.1" x2="268.71" y2="288.9" stroke="#141414" stroke-width="0.9"/><line x1="270.38" y1="286.1" x2="270.38" y2="288.9" stroke="#141414" stroke-width="0.9"/><line x1="271.9" y1="286.1" x2="271.9" y2="292.1" stroke="#141414" stroke-width="1"/><line x1="280.81" y1="286.1" x2="280.81" y2="288.9" stroke="#141414" stroke-width="0.9"/><line x1="286.02" y1="286.1" x2="286.02" y2="288.9" stroke="#141414" stroke-width="0.9"/><line x1="289.72" y1="286.1" x2="289.72" y2="288.9" stroke="#141414" stroke-width="0.9"/><line x1="292.59" y1="286.1" x2="292.59" y2="288.9" stroke="#141414" stroke-width="0.9"/><line x1="294.93" y1="286.1" x2="294.93" y2="288.9" stroke="#141414" stroke-width="0.9"/><line x1="296.91" y1="286.1" x2="296.91" y2="288.9" stroke="#141414" stroke-width="0.9"/><line x1="298.63" y1="286.1" x2="298.63" y2="288.9" stroke="#141414" stroke-width="0.9"/><line x1="300.14" y1="286.1" x2="300.14" y2="288.9" stroke="#141414" stroke-width="0.9"/><line x1="301.5" y1="286.1" x2="301.5" y2="292.1" stroke="#141414" stroke-width="1"/><line x1="309.32" y1="286.1" x2="309.32" y2="288.9" stroke="#141414" stroke-width="0.9"/><line x1="313.9" y1="286.1" x2="313.9" y2="288.9" stroke="#141414" stroke-width="0.9"/><line x1="317.15" y1="286.1" x2="317.15" y2="288.9" stroke="#141414" stroke-width="0.9"/><line x1="319.67" y1="286.1" x2="319.67" y2="288.9" stroke="#141414" stroke-width="0.9"/><line x1="321.73" y1="286.1" x2="321.73" y2="288.9" stroke="#141414" stroke-width="0.9"/><line x1="323.47" y1="286.1" x2="323.47" y2="288.9" stroke="#141414" stroke-width="0.9"/><line x1="324.98" y1="286.1" x2="324.98" y2="288.9" stroke="#141414" stroke-width="0.9"/><line x1="326.31" y1="286.1" x2="326.31" y2="288.9" stroke="#141414" stroke-width="0.9"/><line x1="327.5" y1="286.1" x2="327.5" y2="292.1" stroke="#141414" stroke-width="1"/><line x1="335.32" y1="286.1" x2="335.32" y2="288.9" stroke="#141414" stroke-width="0.9"/><line x1="224.2" y1="285.4" x2="224.2" y2="292.4" stroke="#141414" stroke-width="1.2"/><text x="246.1" y="301.2" font-size="7" text-anchor="middle" fill="#141414" stroke="#141414" stroke-width="0.25">0</text><text x="224" y="305.9" font-size="7" text-anchor="middle" fill="#141414" stroke="#141414" stroke-width="0.25">-762</text><text x="271.5" y="301.2" font-size="7" text-anchor="middle" fill="#141414" stroke="#141414" stroke-width="0.25">10<tspan font-size="6.2" dy="-4.6">3</tspan></text><text x="301.1" y="301.2" font-size="7" text-anchor="middle" fill="#141414" stroke="#141414" stroke-width="0.25">10<tspan font-size="6.2" dy="-4.6">4</tspan></text><text x="327.1" y="301.2" font-size="7" text-anchor="middle" fill="#141414" stroke="#141414" stroke-width="0.25">10<tspan font-size="6.2" dy="-4.6">5</tspan></text><text x="256.5" y="309.1" font-size="7.1" text-anchor="start" fill="#141414" stroke="#141414" stroke-width="0.25">CD19 PerCP-A</text><line x1="218" y1="276.46" x2="224.2" y2="276.46" stroke="#141414" stroke-width="0.9"/><line x1="221" y1="282.66" x2="224.2" y2="282.66" stroke="#141414" stroke-width="0.9"/><line x1="216.7" y1="269" x2="224.2" y2="269" stroke="#141414" stroke-width="1.7"/><line x1="218" y1="262.34" x2="224.2" y2="262.34" stroke="#141414" stroke-width="0.9"/><line x1="221" y1="256.8" x2="224.2" y2="256.8" stroke="#141414" stroke-width="0.9"/><line x1="221" y1="252.46" x2="224.2" y2="252.46" stroke="#141414" stroke-width="0.9"/><line x1="221" y1="249.02" x2="224.2" y2="249.02" stroke="#141414" stroke-width="0.9"/><line x1="221" y1="246.2" x2="224.2" y2="246.2" stroke="#141414" stroke-width="0.9"/><line x1="221" y1="243.83" x2="224.2" y2="243.83" stroke="#141414" stroke-width="0.9"/><line x1="221" y1="241.79" x2="224.2" y2="241.79" stroke="#141414" stroke-width="0.9"/><line x1="221" y1="240.01" x2="224.2" y2="240.01" stroke="#141414" stroke-width="0.9"/><line x1="221" y1="238.42" x2="224.2" y2="238.42" stroke="#141414" stroke-width="0.9"/><line x1="217.7" y1="237" x2="224.2" y2="237" stroke="#141414" stroke-width="1"/><line x1="221" y1="229.2" x2="224.2" y2="229.2" stroke="#141414" stroke-width="0.9"/><line x1="221" y1="224.64" x2="224.2" y2="224.64" stroke="#141414" stroke-width="0.9"/><line x1="221" y1="221.4" x2="224.2" y2="221.4" stroke="#141414" stroke-width="0.9"/><line x1="221" y1="218.89" x2="224.2" y2="218.89" stroke="#141414" stroke-width="0.9"/><line x1="221" y1="216.84" x2="224.2" y2="216.84" stroke="#141414" stroke-width="0.9"/><line x1="221" y1="215.11" x2="224.2" y2="215.11" stroke="#141414" stroke-width="0.9"/><line x1="221" y1="213.61" x2="224.2" y2="213.61" stroke="#141414" stroke-width="0.9"/><line x1="221" y1="212.28" x2="224.2" y2="212.28" stroke="#141414" stroke-width="0.9"/><line x1="217.7" y1="211.1" x2="224.2" y2="211.1" stroke="#141414" stroke-width="1"/><line x1="221" y1="203.87" x2="224.2" y2="203.87" stroke="#141414" stroke-width="0.9"/><line x1="221" y1="199.64" x2="224.2" y2="199.64" stroke="#141414" stroke-width="0.9"/><line x1="221" y1="196.65" x2="224.2" y2="196.65" stroke="#141414" stroke-width="0.9"/><line x1="221" y1="194.32" x2="224.2" y2="194.32" stroke="#141414" stroke-width="0.9"/><line x1="221" y1="192.42" x2="224.2" y2="192.42" stroke="#141414" stroke-width="0.9"/><line x1="221" y1="190.81" x2="224.2" y2="190.81" stroke="#141414" stroke-width="0.9"/><line x1="221" y1="189.42" x2="224.2" y2="189.42" stroke="#141414" stroke-width="0.9"/><line x1="221" y1="188.19" x2="224.2" y2="188.19" stroke="#141414" stroke-width="0.9"/><line x1="217.7" y1="187.1" x2="224.2" y2="187.1" stroke="#141414" stroke-width="1"/><line x1="217.2" y1="285.4" x2="224.2" y2="285.4" stroke="#141414" stroke-width="1.1"/><text x="0" y="0" transform="translate(217.3,269) rotate(-90)" font-size="7" text-anchor="middle" fill="#141414" stroke="#141414" stroke-width="0.25">0</text><text x="0" y="0" transform="translate(217.3,236.2) rotate(-90)" font-size="6.6" text-anchor="middle" fill="#141414" stroke="#141414" stroke-width="0.25">10<tspan font-size="6.6" dy="-5">3</tspan></text><text x="0" y="0" transform="translate(217.3,210.3) rotate(-90)" font-size="6.6" text-anchor="middle" fill="#141414" stroke="#141414" stroke-width="0.25">10<tspan font-size="6.6" dy="-5">4</tspan></text><text x="0" y="0" transform="translate(217.3,186.3) rotate(-90)" font-size="6.6" text-anchor="middle" fill="#141414" stroke="#141414" stroke-width="0.25">10<tspan font-size="6.6" dy="-5">5</tspan></text><text x="0" y="0" transform="translate(210.4,284.9) rotate(-90)" font-size="7" text-anchor="middle" fill="#141414" stroke="#141414" stroke-width="0.25">-257</text><text x="0" y="0" transform="translate(205.2,230.2) rotate(-90)" font-size="7.1" text-anchor="middle" fill="#141414" stroke="#141414" stroke-width="0.25">CD23 APC-A</text><line x1="261" y1="177.4" x2="261" y2="285.4" stroke="#141414" stroke-width="1"/><line x1="224.2" y1="252" x2="338.2" y2="252" stroke="#141414" stroke-width="1"/><text x="269.8" y="191.9" font-size="8.7" text-anchor="start" fill="#333" stroke="#333" stroke-width="0.25">CD5+19+23+</text><text x="296.2" y="201.6" font-size="8.7" text-anchor="middle" fill="#333" stroke="#333" stroke-width="0.25">cells</text><rect x="401.8" y="177.4" width="114.1" height="108" fill="none" stroke="#141414" stroke-width="1"/><line x1="419.82" y1="286.1" x2="419.82" y2="291.9" stroke="#141414" stroke-width="0.9"/><line x1="416.16" y1="286.1" x2="416.16" y2="288.9" stroke="#141414" stroke-width="0.9"/><line x1="412.85" y1="286.1" x2="412.85" y2="288.9" stroke="#141414" stroke-width="0.9"/><line x1="409.9" y1="286.1" x2="409.9" y2="288.9" stroke="#141414" stroke-width="0.9"/><line x1="407.29" y1="286.1" x2="407.29" y2="288.9" stroke="#141414" stroke-width="0.9"/><line x1="404.99" y1="286.1" x2="404.99" y2="288.9" stroke="#141414" stroke-width="0.9"/><line x1="402.94" y1="286.1" x2="402.94" y2="288.9" stroke="#141414" stroke-width="0.9"/><line x1="423.7" y1="286.1" x2="423.7" y2="292.1" stroke="#141414" stroke-width="1.6"/><line x1="427.58" y1="286.1" x2="427.58" y2="291.9" stroke="#141414" stroke-width="0.9"/><line x1="431.24" y1="286.1" x2="431.24" y2="288.9" stroke="#141414" stroke-width="0.9"/><line x1="434.55" y1="286.1" x2="434.55" y2="288.9" stroke="#141414" stroke-width="0.9"/><line x1="437.5" y1="286.1" x2="437.5" y2="288.9" stroke="#141414" stroke-width="0.9"/><line x1="440.11" y1="286.1" x2="440.11" y2="288.9" stroke="#141414" stroke-width="0.9"/><line x1="442.41" y1="286.1" x2="442.41" y2="288.9" stroke="#141414" stroke-width="0.9"/><line x1="444.46" y1="286.1" x2="444.46" y2="288.9" stroke="#141414" stroke-width="0.9"/><line x1="446.31" y1="286.1" x2="446.31" y2="288.9" stroke="#141414" stroke-width="0.9"/><line x1="447.98" y1="286.1" x2="447.98" y2="288.9" stroke="#141414" stroke-width="0.9"/><line x1="449.5" y1="286.1" x2="449.5" y2="292.1" stroke="#141414" stroke-width="1"/><line x1="458.41" y1="286.1" x2="458.41" y2="288.9" stroke="#141414" stroke-width="0.9"/><line x1="463.62" y1="286.1" x2="463.62" y2="288.9" stroke="#141414" stroke-width="0.9"/><line x1="467.32" y1="286.1" x2="467.32" y2="288.9" stroke="#141414" stroke-width="0.9"/><line x1="470.19" y1="286.1" x2="470.19" y2="288.9" stroke="#141414" stroke-width="0.9"/><line x1="472.53" y1="286.1" x2="472.53" y2="288.9" stroke="#141414" stroke-width="0.9"/><line x1="474.51" y1="286.1" x2="474.51" y2="288.9" stroke="#141414" stroke-width="0.9"/><line x1="476.23" y1="286.1" x2="476.23" y2="288.9" stroke="#141414" stroke-width="0.9"/><line x1="477.74" y1="286.1" x2="477.74" y2="288.9" stroke="#141414" stroke-width="0.9"/><line x1="479.1" y1="286.1" x2="479.1" y2="292.1" stroke="#141414" stroke-width="1"/><line x1="486.92" y1="286.1" x2="486.92" y2="288.9" stroke="#141414" stroke-width="0.9"/><line x1="491.5" y1="286.1" x2="491.5" y2="288.9" stroke="#141414" stroke-width="0.9"/><line x1="494.75" y1="286.1" x2="494.75" y2="288.9" stroke="#141414" stroke-width="0.9"/><line x1="497.27" y1="286.1" x2="497.27" y2="288.9" stroke="#141414" stroke-width="0.9"/><line x1="499.33" y1="286.1" x2="499.33" y2="288.9" stroke="#141414" stroke-width="0.9"/><line x1="501.07" y1="286.1" x2="501.07" y2="288.9" stroke="#141414" stroke-width="0.9"/><line x1="502.58" y1="286.1" x2="502.58" y2="288.9" stroke="#141414" stroke-width="0.9"/><line x1="503.91" y1="286.1" x2="503.91" y2="288.9" stroke="#141414" stroke-width="0.9"/><line x1="505.1" y1="286.1" x2="505.1" y2="292.1" stroke="#141414" stroke-width="1"/><line x1="512.92" y1="286.1" x2="512.92" y2="288.9" stroke="#141414" stroke-width="0.9"/><line x1="401.8" y1="285.4" x2="401.8" y2="292.4" stroke="#141414" stroke-width="1.2"/><text x="423.7" y="301.2" font-size="7" text-anchor="middle" fill="#141414" stroke="#141414" stroke-width="0.25">0</text><text x="401.6" y="305.9" font-size="7" text-anchor="middle" fill="#141414" stroke="#141414" stroke-width="0.25">-762</text><text x="449.1" y="301.2" font-size="7" text-anchor="middle" fill="#141414" stroke="#141414" stroke-width="0.25">10<tspan font-size="6.2" dy="-4.6">3</tspan></text><text x="478.7" y="301.2" font-size="7" text-anchor="middle" fill="#141414" stroke="#141414" stroke-width="0.25">10<tspan font-size="6.2" dy="-4.6">4</tspan></text><text x="504.7" y="301.2" font-size="7" text-anchor="middle" fill="#141414" stroke="#141414" stroke-width="0.25">10<tspan font-size="6.2" dy="-4.6">5</tspan></text><text x="434.1" y="309.1" font-size="7.1" text-anchor="start" fill="#141414" stroke="#141414" stroke-width="0.25">CD19 PerCP-A</text><line x1="395.6" y1="277.06" x2="401.8" y2="277.06" stroke="#141414" stroke-width="0.9"/><line x1="394.3" y1="269.6" x2="401.8" y2="269.6" stroke="#141414" stroke-width="1.7"/><line x1="395.6" y1="262.94" x2="401.8" y2="262.94" stroke="#141414" stroke-width="0.9"/><line x1="398.6" y1="257.4" x2="401.8" y2="257.4" stroke="#141414" stroke-width="0.9"/><line x1="398.6" y1="253.06" x2="401.8" y2="253.06" stroke="#141414" stroke-width="0.9"/><line x1="398.6" y1="249.62" x2="401.8" y2="249.62" stroke="#141414" stroke-width="0.9"/><line x1="398.6" y1="246.8" x2="401.8" y2="246.8" stroke="#141414" stroke-width="0.9"/><line x1="398.6" y1="244.43" x2="401.8" y2="244.43" stroke="#141414" stroke-width="0.9"/><line x1="398.6" y1="242.39" x2="401.8" y2="242.39" stroke="#141414" stroke-width="0.9"/><line x1="398.6" y1="240.61" x2="401.8" y2="240.61" stroke="#141414" stroke-width="0.9"/><line x1="398.6" y1="239.02" x2="401.8" y2="239.02" stroke="#141414" stroke-width="0.9"/><line x1="395.3" y1="237.6" x2="401.8" y2="237.6" stroke="#141414" stroke-width="1"/><line x1="398.6" y1="229.8" x2="401.8" y2="229.8" stroke="#141414" stroke-width="0.9"/><line x1="398.6" y1="225.24" x2="401.8" y2="225.24" stroke="#141414" stroke-width="0.9"/><line x1="398.6" y1="222" x2="401.8" y2="222" stroke="#141414" stroke-width="0.9"/><line x1="398.6" y1="219.49" x2="401.8" y2="219.49" stroke="#141414" stroke-width="0.9"/><line x1="398.6" y1="217.44" x2="401.8" y2="217.44" stroke="#141414" stroke-width="0.9"/><line x1="398.6" y1="215.71" x2="401.8" y2="215.71" stroke="#141414" stroke-width="0.9"/><line x1="398.6" y1="214.21" x2="401.8" y2="214.21" stroke="#141414" stroke-width="0.9"/><line x1="398.6" y1="212.88" x2="401.8" y2="212.88" stroke="#141414" stroke-width="0.9"/><line x1="395.3" y1="211.7" x2="401.8" y2="211.7" stroke="#141414" stroke-width="1"/><line x1="398.6" y1="204.47" x2="401.8" y2="204.47" stroke="#141414" stroke-width="0.9"/><line x1="398.6" y1="200.24" x2="401.8" y2="200.24" stroke="#141414" stroke-width="0.9"/><line x1="398.6" y1="197.25" x2="401.8" y2="197.25" stroke="#141414" stroke-width="0.9"/><line x1="398.6" y1="194.92" x2="401.8" y2="194.92" stroke="#141414" stroke-width="0.9"/><line x1="398.6" y1="193.02" x2="401.8" y2="193.02" stroke="#141414" stroke-width="0.9"/><line x1="398.6" y1="191.41" x2="401.8" y2="191.41" stroke="#141414" stroke-width="0.9"/><line x1="398.6" y1="190.02" x2="401.8" y2="190.02" stroke="#141414" stroke-width="0.9"/><line x1="398.6" y1="188.79" x2="401.8" y2="188.79" stroke="#141414" stroke-width="0.9"/><line x1="395.3" y1="187.7" x2="401.8" y2="187.7" stroke="#141414" stroke-width="1"/><line x1="394.8" y1="285.4" x2="401.8" y2="285.4" stroke="#141414" stroke-width="1.1"/><text x="0" y="0" transform="translate(394.9,269.6) rotate(-90)" font-size="7" text-anchor="middle" fill="#141414" stroke="#141414" stroke-width="0.25">0</text><text x="0" y="0" transform="translate(394.9,236.8) rotate(-90)" font-size="6.6" text-anchor="middle" fill="#141414" stroke="#141414" stroke-width="0.25">10<tspan font-size="6.6" dy="-5">3</tspan></text><text x="0" y="0" transform="translate(394.9,210.9) rotate(-90)" font-size="6.6" text-anchor="middle" fill="#141414" stroke="#141414" stroke-width="0.25">10<tspan font-size="6.6" dy="-5">4</tspan></text><text x="0" y="0" transform="translate(394.9,186.9) rotate(-90)" font-size="6.6" text-anchor="middle" fill="#141414" stroke="#141414" stroke-width="0.25">10<tspan font-size="6.6" dy="-5">5</tspan></text><text x="0" y="0" transform="translate(388,284.9) rotate(-90)" font-size="7" text-anchor="middle" fill="#141414" stroke="#141414" stroke-width="0.25">-199</text><text x="0" y="0" transform="translate(383.3,231) rotate(-90)" font-size="7.1" text-anchor="middle" fill="#141414" stroke="#141414" stroke-width="0.25">CD160 PE-A</text><line x1="441.2" y1="177.4" x2="441.2" y2="285.4" stroke="#141414" stroke-width="1"/><line x1="401.8" y1="259" x2="515.9" y2="259" stroke="#141414" stroke-width="1"/><text x="453.9" y="204.3" font-size="8.75" text-anchor="start" fill="#333" stroke="#333" stroke-width="0.25">CD160+</text><text x="453.9" y="215.5" font-size="8.75" text-anchor="start" fill="#333" stroke="#333" stroke-width="0.25">CLL cells</text><text x="393.6" y="175" font-size="7.1" text-anchor="start" fill="#141414" stroke="#141414" stroke-width="0.25">CD2-CD5+CD19+CD23+CD160+</text></g></svg></body></html>
